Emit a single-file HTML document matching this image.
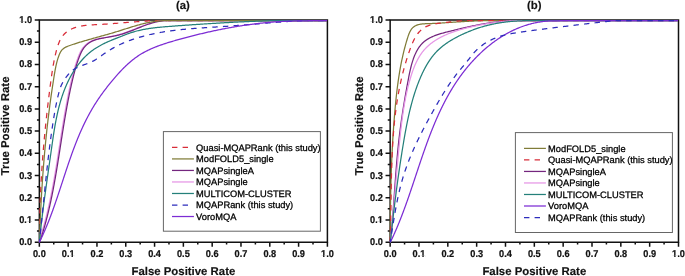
<!DOCTYPE html>
<html><head><meta charset="utf-8"><style>
html,body{margin:0;padding:0;background:#fff;}
body{width:685px;height:276px;overflow:hidden;}
svg{display:block;filter:blur(0.35px);}
text{font-family:"Liberation Sans",sans-serif;fill:#111;text-rendering:geometricPrecision;}
.tl{font-size:9.65px;font-weight:bold;stroke:#111;stroke-width:0.22px;}
.at{font-size:11.4px;font-weight:bold;stroke:#111;stroke-width:0.15px;}
.lg{font-size:9.3px;fill:#000;stroke:#000;stroke-width:0.28px;}
</style></head><body>
<svg width="685" height="276" viewBox="0 0 685 276">
<rect width="685" height="276" fill="#fff"/>
<clipPath id="ca"><rect x="38.35" y="19.70" width="289.05" height="223.50"/></clipPath>
<path d="M39.35,20.00 L327.40,20.00 L327.40,242.20 L39.35,242.20 Z" fill="none" stroke="#111" stroke-width="1.5"/>
<path d="M39.35,242.20 v4.6 M39.35,242.20 h-4.6 M53.75,242.20 v2.4 M39.35,231.09 h-2.4 M68.16,242.20 v4.6 M39.35,219.98 h-4.6 M82.56,242.20 v2.4 M39.35,208.87 h-2.4 M96.96,242.20 v4.6 M39.35,197.76 h-4.6 M111.36,242.20 v2.4 M39.35,186.65 h-2.4 M125.76,242.20 v4.6 M39.35,175.54 h-4.6 M140.17,242.20 v2.4 M39.35,164.43 h-2.4 M154.57,242.20 v4.6 M39.35,153.32 h-4.6 M168.97,242.20 v2.4 M39.35,142.21 h-2.4 M183.37,242.20 v4.6 M39.35,131.10 h-4.6 M197.78,242.20 v2.4 M39.35,119.99 h-2.4 M212.18,242.20 v4.6 M39.35,108.88 h-4.6 M226.58,242.20 v2.4 M39.35,97.77 h-2.4 M240.98,242.20 v4.6 M39.35,86.66 h-4.6 M255.39,242.20 v2.4 M39.35,75.55 h-2.4 M269.79,242.20 v4.6 M39.35,64.44 h-4.6 M284.19,242.20 v2.4 M39.35,53.33 h-2.4 M298.59,242.20 v4.6 M39.35,42.22 h-4.6 M313.00,242.20 v2.4 M39.35,31.11 h-2.4 M327.40,242.20 v4.6 M39.35,20.00 h-4.6" stroke="#111" stroke-width="1.5" fill="none"/>
<g clip-path="url(#ca)" fill="none" stroke-linejoin="round">
<path d="M39.35,242.20 L39.60,241.43 L39.59,240.63 L39.59,239.83 L39.59,239.03 L39.58,238.23 L39.58,237.44 L39.58,236.64 L39.58,235.84 L39.58,235.04 L39.58,234.25 L39.58,233.45 L39.59,232.65 L39.59,231.85 L39.59,231.05 L39.60,230.26 L39.60,229.46 L39.61,228.66 L39.62,227.86 L39.62,227.07 L39.63,226.27 L39.64,225.47 L39.65,224.68 L39.66,223.88 L39.67,223.08 L39.68,222.28 L39.69,221.49 L39.71,220.69 L39.72,219.89 L39.74,219.10 L39.75,218.30 L39.77,217.50 L39.78,216.71 L39.80,215.91 L39.82,215.11 L39.83,214.32 L39.85,213.52 L39.87,212.72 L39.89,211.93 L39.91,211.13 L39.93,210.33 L39.96,209.54 L39.98,208.74 L40.00,207.94 L40.03,207.15 L40.05,206.35 L40.07,205.56 L40.10,204.76 L40.13,203.96 L40.15,203.17 L40.18,202.37 L40.21,201.58 L40.24,200.78 L40.27,199.98 L40.30,199.19 L40.33,198.39 L40.36,197.60 L40.39,196.80 L40.43,196.01 L40.46,195.21 L40.49,194.41 L40.53,193.62 L40.56,192.82 L40.60,192.03 L40.63,191.23 L40.67,190.44 L40.71,189.64 L40.75,188.85 L40.79,188.05 L40.82,187.26 L40.86,186.46 L40.90,185.67 L40.95,184.87 L40.99,184.08 L41.03,183.28 L41.07,182.49 L41.12,181.69 L41.16,180.90 L41.20,180.10 L41.25,179.31 L41.30,178.52 L41.34,177.72 L41.39,176.93 L41.44,176.13 L41.48,175.34 L41.53,174.54 L41.58,173.75 L41.63,172.96 L41.68,172.16 L41.73,171.37 L41.79,170.57 L41.84,169.78 L41.89,168.99 L41.94,168.19 L42.00,167.40 L42.05,166.60 L42.11,165.81 L42.16,165.02 L42.22,164.22 L42.27,163.43 L42.33,162.64 L42.39,161.84 L42.45,161.05 L42.51,160.26 L42.56,159.46 L42.62,158.67 L42.68,157.88 L42.75,157.08 L42.81,156.29 L42.87,155.50 L42.93,154.70 L42.99,153.91 L43.06,153.12 L43.12,152.32 L43.19,151.53 L43.25,150.74 L43.32,149.95 L43.38,149.15 L43.45,148.36 L43.52,147.57 L43.58,146.78 L43.65,145.98 L43.72,145.19 L43.79,144.40 L43.86,143.61 L43.93,142.81 L44.00,142.02 L44.07,141.23 L44.15,140.44 L44.22,139.65 L44.29,138.85 L44.36,138.06 L44.44,137.27 L44.51,136.48 L44.59,135.69 L44.66,134.89 L44.74,134.10 L44.81,133.31 L44.89,132.52 L44.97,131.73 L45.05,130.94 L45.12,130.15 L45.20,129.35 L45.28,128.56 L45.36,127.77 L45.44,126.98 L45.52,126.19 L45.60,125.40 L45.68,124.61 L45.77,123.82 L45.85,123.02 L45.93,122.23 L46.02,121.44 L46.10,120.65 L46.18,119.86 L46.27,119.07 L46.35,118.28 L46.44,117.49 L46.53,116.70 L46.61,115.91 L46.70,115.12 L46.79,114.33 L46.87,113.54 L46.96,112.75 L47.05,111.96 L47.14,111.17 L47.23,110.38 L47.32,109.59 L47.41,108.80 L47.50,108.01 L47.59,107.22 L47.69,106.43 L47.78,105.64 L47.87,104.85 L47.97,104.06 L48.06,103.27 L48.15,102.48 L48.25,101.69 L48.34,100.90 L48.44,100.11 L48.53,99.32 L48.63,98.53 L48.73,97.74 L48.82,96.95 L48.92,96.16 L49.02,95.37 L49.12,94.59 L49.22,93.80 L49.32,93.01 L49.41,92.22 L49.51,91.43 L49.62,90.64 L49.72,89.85 L49.82,89.06 L49.92,88.28 L50.02,87.49 L50.12,86.70 L50.23,85.91 L50.33,85.12 L50.43,84.33 L50.54,83.54 L50.64,82.76 L50.75,81.97 L50.85,81.18 L50.96,80.39 L51.06,79.60 L51.17,78.82 L51.28,78.03 L51.39,77.24 L51.50,76.45 L51.61,75.66 L51.72,74.88 L51.84,74.09 L51.95,73.30 L52.07,72.51 L52.19,71.72 L52.31,70.94 L52.43,70.15 L52.56,69.36 L52.69,68.57 L52.82,67.78 L52.95,66.99 L53.08,66.21 L53.22,65.42 L53.36,64.63 L53.50,63.84 L53.65,63.05 L53.80,62.26 L53.95,61.47 L54.10,60.68 L54.26,59.89 L54.42,59.10 L54.59,58.31 L54.76,57.52 L54.93,56.73 L55.11,55.94 L55.29,55.15 L55.47,54.36 L55.66,53.57 L55.85,52.78 L56.05,51.99 L56.25,51.20 L56.46,50.41 L56.67,49.62 L56.89,48.83 L57.11,48.05 L57.35,47.27 L57.59,46.49 L57.84,45.72 L58.10,44.96 L58.37,44.20 L58.65,43.45 L58.94,42.71 L59.24,41.98 L59.56,41.26 L59.89,40.55 L60.23,39.86 L60.59,39.17 L60.97,38.50 L61.36,37.85 L61.76,37.21 L62.19,36.59 L62.63,35.98 L63.09,35.40 L63.57,34.83 L64.07,34.28 L64.59,33.75 L65.12,33.24 L65.68,32.75 L66.25,32.27 L66.83,31.82 L67.44,31.38 L68.05,30.96 L68.69,30.55 L69.33,30.17 L69.99,29.80 L70.66,29.44 L71.35,29.10 L72.05,28.78 L72.75,28.47 L73.47,28.18 L74.20,27.91 L74.94,27.64 L75.68,27.39 L76.44,27.16 L77.20,26.94 L77.97,26.73 L78.74,26.54 L79.52,26.36 L80.31,26.19 L81.10,26.03 L81.89,25.89 L82.69,25.76 L83.49,25.63 L84.30,25.52 L85.10,25.42 L85.91,25.33 L86.72,25.25 L87.53,25.17 L88.35,25.10 L89.16,25.04 L89.98,24.98 L90.79,24.93 L91.61,24.88 L92.43,24.83 L93.25,24.79 L94.06,24.75 L94.88,24.71 L95.70,24.67 L96.51,24.63 L97.33,24.59 L98.14,24.55 L98.95,24.51 L99.76,24.47 L100.57,24.42 L101.38,24.37 L102.18,24.33 L102.99,24.28 L103.79,24.23 L104.59,24.17 L105.40,24.12 L106.20,24.07 L107.00,24.02 L107.79,23.96 L108.59,23.90 L109.39,23.85 L110.18,23.79 L110.98,23.73 L111.77,23.67 L112.57,23.61 L113.36,23.55 L114.15,23.49 L114.94,23.43 L115.73,23.37 L116.52,23.31 L117.31,23.25 L118.10,23.18 L118.89,23.12 L119.68,23.06 L120.47,23.00 L121.25,22.93 L122.04,22.87 L122.82,22.80 L123.61,22.74 L124.40,22.68 L125.18,22.61 L125.97,22.55 L126.75,22.49 L127.54,22.42 L128.32,22.36 L129.10,22.30 L129.89,22.23 L130.67,22.17 L131.46,22.11 L132.24,22.05 L133.03,21.99 L133.81,21.93 L134.60,21.87 L135.38,21.81 L136.16,21.75 L136.95,21.69 L137.74,21.64 L138.52,21.58 L139.31,21.53 L140.09,21.47 L140.88,21.42 L141.67,21.36 L142.45,21.31 L143.24,21.26 L144.03,21.21 L144.82,21.16 L145.61,21.12 L146.40,21.07 L147.19,21.03 L147.98,20.98 L148.78,20.94 L149.57,20.90 L150.36,20.86 L151.16,20.82 L151.95,20.79 L152.75,20.75 L153.55,20.72 L154.34,20.69 L155.14,20.66 L155.94,20.63 L156.74,20.60 L157.55,20.58 L158.35,20.55 L159.15,20.53 L159.96,20.51 L160.77,20.50 L161.58,20.50 L162.38,20.50 L163.20,20.50 L164.01,20.50 L164.82,20.50 L165.63,20.50 L166.45,20.50 L167.27,20.50 L168.00,20.50 L327.00,20.50" stroke="#d82c38" stroke-width="1.25" stroke-dasharray="5.4,5.2" stroke-dashoffset="3.0"/>
<path d="M38.85,242.20 L38.91,241.48 L39.15,240.78 L39.38,240.08 L39.61,239.38 L39.84,238.68 L40.07,237.98 L40.29,237.28 L40.52,236.57 L40.74,235.87 L40.96,235.17 L41.18,234.47 L41.40,233.76 L41.62,233.06 L41.83,232.35 L42.04,231.65 L42.25,230.94 L42.46,230.24 L42.67,229.53 L42.88,228.83 L43.08,228.12 L43.28,227.41 L43.49,226.71 L43.69,226.00 L43.88,225.29 L44.08,224.58 L44.28,223.88 L44.47,223.17 L44.66,222.46 L44.85,221.75 L45.04,221.04 L45.23,220.33 L45.42,219.62 L45.60,218.91 L45.78,218.20 L45.97,217.49 L46.15,216.78 L46.33,216.07 L46.50,215.36 L46.68,214.64 L46.86,213.93 L47.03,213.22 L47.20,212.51 L47.37,211.79 L47.55,211.08 L47.71,210.37 L47.88,209.65 L48.05,208.94 L48.21,208.23 L48.38,207.51 L48.54,206.80 L48.70,206.08 L48.86,205.37 L49.02,204.65 L49.18,203.94 L49.34,203.22 L49.49,202.51 L49.65,201.79 L49.80,201.07 L49.96,200.36 L50.11,199.64 L50.26,198.92 L50.41,198.21 L50.56,197.49 L50.70,196.77 L50.85,196.06 L51.00,195.34 L51.14,194.62 L51.29,193.90 L51.43,193.18 L51.57,192.46 L51.71,191.75 L51.85,191.03 L51.99,190.31 L52.13,189.59 L52.27,188.87 L52.41,188.15 L52.54,187.43 L52.68,186.71 L52.81,185.99 L52.95,185.27 L53.08,184.55 L53.21,183.83 L53.34,183.11 L53.47,182.39 L53.60,181.67 L53.73,180.95 L53.86,180.23 L53.99,179.50 L54.12,178.78 L54.24,178.06 L54.37,177.34 L54.50,176.62 L54.62,175.90 L54.75,175.17 L54.87,174.45 L54.99,173.73 L55.12,173.01 L55.24,172.28 L55.36,171.56 L55.48,170.84 L55.60,170.12 L55.72,169.39 L55.84,168.67 L55.96,167.95 L56.08,167.23 L56.20,166.50 L56.32,165.78 L56.43,165.06 L56.55,164.33 L56.67,163.61 L56.79,162.89 L56.90,162.16 L57.02,161.44 L57.13,160.71 L57.25,159.99 L57.37,159.27 L57.48,158.54 L57.60,157.82 L57.71,157.09 L57.82,156.37 L57.94,155.65 L58.05,154.92 L58.17,154.20 L58.28,153.47 L58.39,152.75 L58.51,152.03 L58.62,151.30 L58.73,150.58 L58.84,149.85 L58.96,149.13 L59.07,148.40 L59.18,147.68 L59.30,146.96 L59.41,146.23 L59.52,145.51 L59.63,144.78 L59.75,144.06 L59.86,143.33 L59.97,142.61 L60.08,141.88 L60.20,141.16 L60.31,140.44 L60.42,139.71 L60.54,138.99 L60.65,138.26 L60.76,137.54 L60.88,136.81 L60.99,136.09 L61.10,135.37 L61.22,134.64 L61.33,133.92 L61.45,133.19 L61.56,132.47 L61.68,131.74 L61.79,131.02 L61.91,130.30 L62.02,129.57 L62.14,128.85 L62.26,128.13 L62.37,127.40 L62.49,126.68 L62.61,125.95 L62.73,125.23 L62.85,124.51 L62.96,123.78 L63.08,123.06 L63.20,122.34 L63.32,121.61 L63.44,120.89 L63.56,120.17 L63.69,119.45 L63.81,118.72 L63.93,118.00 L64.05,117.28 L64.18,116.55 L64.30,115.83 L64.43,115.11 L64.55,114.39 L64.68,113.67 L64.80,112.94 L64.93,112.22 L65.06,111.50 L65.19,110.78 L65.32,110.06 L65.44,109.34 L65.58,108.61 L65.71,107.89 L65.84,107.17 L65.97,106.45 L66.10,105.73 L66.24,105.01 L66.37,104.29 L66.51,103.57 L66.64,102.85 L66.78,102.13 L66.92,101.41 L67.06,100.69 L67.20,99.97 L67.34,99.25 L67.48,98.53 L67.62,97.81 L67.77,97.09 L67.91,96.38 L68.06,95.66 L68.20,94.94 L68.35,94.22 L68.50,93.50 L68.65,92.78 L68.80,92.07 L68.95,91.35 L69.10,90.63 L69.25,89.92 L69.41,89.20 L69.56,88.48 L69.72,87.77 L69.88,87.05 L70.04,86.33 L70.20,85.62 L70.36,84.90 L70.52,84.19 L70.68,83.47 L70.85,82.76 L71.01,82.04 L71.18,81.33 L71.35,80.61 L71.52,79.90 L71.69,79.19 L71.86,78.47 L72.03,77.76 L72.21,77.05 L72.38,76.33 L72.56,75.62 L72.74,74.91 L72.92,74.20 L73.11,73.49 L73.29,72.78 L73.48,72.06 L73.67,71.36 L73.86,70.65 L74.05,69.94 L74.25,69.23 L74.45,68.52 L74.65,67.81 L74.86,67.11 L75.07,66.40 L75.28,65.70 L75.50,64.99 L75.72,64.29 L75.94,63.59 L76.16,62.88 L76.39,62.18 L76.63,61.48 L76.87,60.78 L77.11,60.09 L77.35,59.39 L77.61,58.69 L77.86,58.00 L78.12,57.30 L78.39,56.61 L78.66,55.92 L78.94,55.24 L79.22,54.55 L79.51,53.88 L79.82,53.21 L80.13,52.55 L80.45,51.90 L80.78,51.26 L81.13,50.63 L81.49,50.01 L81.86,49.40 L82.24,48.80 L82.64,48.22 L83.06,47.66 L83.49,47.11 L83.93,46.58 L84.39,46.07 L84.87,45.57 L85.36,45.09 L85.87,44.62 L86.39,44.17 L86.92,43.74 L87.47,43.32 L88.04,42.93 L88.61,42.54 L89.20,42.18 L89.80,41.83 L90.42,41.50 L91.04,41.19 L91.68,40.89 L92.33,40.61 L93.00,40.34 L93.67,40.10 L94.35,39.86 L95.04,39.65 L95.74,39.44 L96.45,39.25 L97.17,39.06 L97.89,38.89 L98.61,38.73 L99.35,38.57 L100.08,38.42 L100.82,38.28 L101.56,38.14 L102.31,38.01 L103.05,37.88 L103.80,37.75 L104.54,37.62 L105.28,37.50 L106.03,37.37 L106.77,37.25 L107.50,37.12 L108.24,36.99 L108.97,36.86 L109.71,36.72 L110.44,36.59 L111.16,36.45 L111.89,36.31 L112.62,36.16 L113.34,36.01 L114.06,35.86 L114.78,35.70 L115.49,35.54 L116.21,35.37 L116.92,35.20 L117.63,35.02 L118.34,34.84 L119.04,34.65 L119.75,34.45 L120.45,34.25 L121.15,34.04 L121.85,33.83 L122.55,33.61 L123.24,33.38 L123.93,33.15 L124.63,32.91 L125.32,32.67 L126.01,32.43 L126.69,32.18 L127.38,31.93 L128.07,31.67 L128.75,31.41 L129.43,31.15 L130.12,30.89 L130.80,30.62 L131.48,30.35 L132.16,30.08 L132.84,29.81 L133.52,29.54 L134.20,29.26 L134.88,28.99 L135.56,28.71 L136.24,28.44 L136.92,28.16 L137.60,27.89 L138.28,27.61 L138.96,27.34 L139.64,27.07 L140.32,26.80 L141.00,26.53 L141.68,26.27 L142.36,26.00 L143.04,25.74 L143.73,25.48 L144.41,25.23 L145.10,24.98 L145.78,24.73 L146.47,24.49 L147.16,24.25 L147.85,24.02 L148.54,23.79 L149.23,23.57 L149.93,23.35 L150.62,23.14 L151.32,22.93 L152.02,22.73 L152.72,22.54 L153.43,22.35 L154.13,22.17 L154.84,22.00 L155.55,21.84 L156.26,21.68 L156.98,21.53 L157.69,21.39 L158.41,21.26 L159.14,21.14 L159.86,21.03 L160.59,20.93 L161.32,20.84 L162.05,20.76 L162.79,20.69 L163.53,20.63 L164.27,20.58 L165.02,20.54 L165.77,20.51 L166.52,20.50 L167.28,20.50 L168.04,20.51 L168.81,20.53 L169.50,20.50 L326.50,20.50" stroke="#e696e6" stroke-width="1.25"/>
<path d="M39.85,242.20 L39.91,241.48 L40.15,240.78 L40.38,240.08 L40.61,239.38 L40.84,238.68 L41.07,237.98 L41.29,237.28 L41.52,236.57 L41.74,235.87 L41.96,235.17 L42.18,234.47 L42.40,233.76 L42.62,233.06 L42.83,232.35 L43.04,231.65 L43.25,230.94 L43.46,230.24 L43.67,229.53 L43.88,228.83 L44.08,228.12 L44.28,227.41 L44.49,226.71 L44.69,226.00 L44.88,225.29 L45.08,224.58 L45.28,223.88 L45.47,223.17 L45.66,222.46 L45.85,221.75 L46.04,221.04 L46.23,220.33 L46.42,219.62 L46.60,218.91 L46.78,218.20 L46.97,217.49 L47.15,216.78 L47.33,216.07 L47.50,215.36 L47.68,214.64 L47.86,213.93 L48.03,213.22 L48.20,212.51 L48.37,211.79 L48.55,211.08 L48.71,210.37 L48.88,209.65 L49.05,208.94 L49.21,208.23 L49.38,207.51 L49.54,206.80 L49.70,206.08 L49.86,205.37 L50.02,204.65 L50.18,203.94 L50.34,203.22 L50.49,202.51 L50.65,201.79 L50.80,201.07 L50.96,200.36 L51.11,199.64 L51.26,198.92 L51.41,198.21 L51.56,197.49 L51.70,196.77 L51.85,196.06 L52.00,195.34 L52.14,194.62 L52.29,193.90 L52.43,193.18 L52.57,192.46 L52.71,191.75 L52.85,191.03 L52.99,190.31 L53.13,189.59 L53.27,188.87 L53.41,188.15 L53.54,187.43 L53.68,186.71 L53.81,185.99 L53.95,185.27 L54.08,184.55 L54.21,183.83 L54.34,183.11 L54.47,182.39 L54.60,181.67 L54.73,180.95 L54.86,180.23 L54.99,179.50 L55.12,178.78 L55.24,178.06 L55.37,177.34 L55.50,176.62 L55.62,175.90 L55.75,175.17 L55.87,174.45 L55.99,173.73 L56.12,173.01 L56.24,172.28 L56.36,171.56 L56.48,170.84 L56.60,170.12 L56.72,169.39 L56.84,168.67 L56.96,167.95 L57.08,167.23 L57.20,166.50 L57.32,165.78 L57.43,165.06 L57.55,164.33 L57.67,163.61 L57.79,162.89 L57.90,162.16 L58.02,161.44 L58.13,160.71 L58.25,159.99 L58.37,159.27 L58.48,158.54 L58.60,157.82 L58.71,157.09 L58.82,156.37 L58.94,155.65 L59.05,154.92 L59.17,154.20 L59.28,153.47 L59.39,152.75 L59.51,152.03 L59.62,151.30 L59.73,150.58 L59.84,149.85 L59.96,149.13 L60.07,148.40 L60.18,147.68 L60.30,146.96 L60.41,146.23 L60.52,145.51 L60.63,144.78 L60.75,144.06 L60.86,143.33 L60.97,142.61 L61.08,141.88 L61.20,141.16 L61.31,140.44 L61.42,139.71 L61.54,138.99 L61.65,138.26 L61.76,137.54 L61.88,136.81 L61.99,136.09 L62.10,135.37 L62.22,134.64 L62.33,133.92 L62.45,133.19 L62.56,132.47 L62.68,131.74 L62.79,131.02 L62.91,130.30 L63.02,129.57 L63.14,128.85 L63.26,128.13 L63.37,127.40 L63.49,126.68 L63.61,125.95 L63.73,125.23 L63.85,124.51 L63.96,123.78 L64.08,123.06 L64.20,122.34 L64.32,121.61 L64.44,120.89 L64.56,120.17 L64.69,119.45 L64.81,118.72 L64.93,118.00 L65.05,117.28 L65.18,116.55 L65.30,115.83 L65.43,115.11 L65.55,114.39 L65.68,113.67 L65.80,112.94 L65.93,112.22 L66.06,111.50 L66.19,110.78 L66.32,110.06 L66.44,109.34 L66.58,108.61 L66.71,107.89 L66.84,107.17 L66.97,106.45 L67.10,105.73 L67.24,105.01 L67.37,104.29 L67.51,103.57 L67.64,102.85 L67.78,102.13 L67.92,101.41 L68.06,100.69 L68.20,99.97 L68.34,99.25 L68.48,98.53 L68.62,97.81 L68.77,97.09 L68.91,96.38 L69.06,95.66 L69.20,94.94 L69.35,94.22 L69.50,93.50 L69.65,92.78 L69.80,92.07 L69.95,91.35 L70.10,90.63 L70.25,89.92 L70.41,89.20 L70.56,88.48 L70.72,87.77 L70.88,87.05 L71.04,86.33 L71.20,85.62 L71.36,84.90 L71.52,84.19 L71.68,83.47 L71.85,82.76 L72.01,82.04 L72.18,81.33 L72.35,80.61 L72.52,79.90 L72.69,79.19 L72.86,78.47 L73.03,77.76 L73.21,77.05 L73.38,76.33 L73.56,75.62 L73.74,74.91 L73.92,74.20 L74.11,73.49 L74.29,72.78 L74.48,72.06 L74.67,71.36 L74.86,70.65 L75.05,69.94 L75.25,69.23 L75.45,68.52 L75.65,67.81 L75.86,67.11 L76.07,66.40 L76.28,65.70 L76.50,64.99 L76.72,64.29 L76.94,63.59 L77.16,62.88 L77.39,62.18 L77.63,61.48 L77.87,60.78 L78.11,60.09 L78.35,59.39 L78.61,58.69 L78.86,58.00 L79.12,57.30 L79.39,56.61 L79.66,55.92 L79.94,55.24 L80.22,54.55 L80.51,53.88 L80.82,53.21 L81.13,52.55 L81.45,51.90 L81.78,51.26 L82.13,50.63 L82.49,50.01 L82.86,49.40 L83.24,48.80 L83.64,48.22 L84.06,47.66 L84.49,47.11 L84.93,46.58 L85.39,46.07 L85.87,45.57 L86.36,45.09 L86.87,44.62 L87.39,44.17 L87.92,43.74 L88.47,43.32 L89.04,42.93 L89.61,42.54 L90.20,42.18 L90.80,41.83 L91.42,41.50 L92.04,41.19 L92.68,40.89 L93.33,40.61 L94.00,40.34 L94.67,40.10 L95.35,39.86 L96.04,39.65 L96.74,39.44 L97.45,39.25 L98.17,39.06 L98.89,38.89 L99.61,38.73 L100.35,38.57 L101.08,38.42 L101.82,38.28 L102.56,38.14 L103.31,38.01 L104.05,37.88 L104.80,37.75 L105.54,37.62 L106.28,37.50 L107.03,37.37 L107.77,37.25 L108.50,37.12 L109.24,36.99 L109.97,36.86 L110.71,36.72 L111.44,36.59 L112.16,36.45 L112.89,36.31 L113.62,36.16 L114.34,36.01 L115.06,35.86 L115.78,35.70 L116.49,35.54 L117.21,35.37 L117.92,35.20 L118.63,35.02 L119.34,34.84 L120.04,34.65 L120.75,34.45 L121.45,34.25 L122.15,34.04 L122.85,33.83 L123.55,33.61 L124.24,33.38 L124.93,33.15 L125.63,32.91 L126.32,32.67 L127.01,32.43 L127.69,32.18 L128.38,31.93 L129.07,31.67 L129.75,31.41 L130.43,31.15 L131.12,30.89 L131.80,30.62 L132.48,30.35 L133.16,30.08 L133.84,29.81 L134.52,29.54 L135.20,29.26 L135.88,28.99 L136.56,28.71 L137.24,28.44 L137.92,28.16 L138.60,27.89 L139.28,27.61 L139.96,27.34 L140.64,27.07 L141.32,26.80 L142.00,26.53 L142.68,26.27 L143.36,26.00 L144.04,25.74 L144.73,25.48 L145.41,25.23 L146.10,24.98 L146.78,24.73 L147.47,24.49 L148.16,24.25 L148.85,24.02 L149.54,23.79 L150.23,23.57 L150.93,23.35 L151.62,23.14 L152.32,22.93 L153.02,22.73 L153.72,22.54 L154.43,22.35 L155.13,22.17 L155.84,22.00 L156.55,21.84 L157.26,21.68 L157.98,21.53 L158.69,21.39 L159.41,21.26 L160.14,21.14 L160.86,21.03 L161.59,20.93 L162.32,20.84 L163.05,20.76 L163.79,20.69 L164.53,20.63 L165.27,20.58 L166.02,20.54 L166.77,20.51 L167.52,20.50 L168.28,20.50 L169.04,20.51 L169.81,20.53 L170.50,20.50 L327.50,20.50" stroke="#74267e" stroke-width="1.25"/>
<path d="M39.35,242.20 L39.42,241.48 L39.44,240.71 L39.47,239.94 L39.49,239.18 L39.52,238.41 L39.55,237.64 L39.58,236.88 L39.60,236.11 L39.63,235.34 L39.66,234.58 L39.69,233.81 L39.71,233.04 L39.74,232.28 L39.77,231.51 L39.80,230.75 L39.83,229.98 L39.86,229.22 L39.89,228.45 L39.92,227.69 L39.95,226.92 L39.98,226.15 L40.01,225.39 L40.05,224.62 L40.08,223.86 L40.11,223.09 L40.14,222.33 L40.18,221.57 L40.21,220.80 L40.24,220.04 L40.28,219.27 L40.31,218.51 L40.34,217.74 L40.38,216.98 L40.41,216.22 L40.45,215.45 L40.48,214.69 L40.52,213.92 L40.56,213.16 L40.59,212.40 L40.63,211.63 L40.67,210.87 L40.71,210.11 L40.74,209.34 L40.78,208.58 L40.82,207.82 L40.86,207.05 L40.90,206.29 L40.94,205.53 L40.98,204.77 L41.02,204.00 L41.06,203.24 L41.10,202.48 L41.14,201.72 L41.18,200.95 L41.23,200.19 L41.27,199.43 L41.31,198.67 L41.35,197.90 L41.40,197.14 L41.44,196.38 L41.48,195.62 L41.53,194.86 L41.57,194.09 L41.62,193.33 L41.67,192.57 L41.71,191.81 L41.76,191.05 L41.80,190.29 L41.85,189.53 L41.90,188.76 L41.95,188.00 L42.00,187.24 L42.04,186.48 L42.09,185.72 L42.14,184.96 L42.19,184.20 L42.24,183.44 L42.29,182.68 L42.34,181.92 L42.40,181.16 L42.45,180.39 L42.50,179.63 L42.55,178.87 L42.61,178.11 L42.66,177.35 L42.71,176.59 L42.77,175.83 L42.82,175.07 L42.88,174.31 L42.93,173.55 L42.99,172.79 L43.05,172.03 L43.10,171.27 L43.16,170.51 L43.22,169.75 L43.28,168.99 L43.33,168.23 L43.39,167.47 L43.45,166.71 L43.51,165.95 L43.57,165.19 L43.63,164.43 L43.69,163.68 L43.75,162.92 L43.82,162.16 L43.88,161.40 L43.94,160.64 L44.01,159.88 L44.07,159.12 L44.13,158.36 L44.20,157.60 L44.26,156.84 L44.33,156.08 L44.39,155.32 L44.46,154.56 L44.53,153.81 L44.59,153.05 L44.66,152.29 L44.73,151.53 L44.80,150.77 L44.87,150.01 L44.94,149.25 L45.01,148.49 L45.08,147.74 L45.15,146.98 L45.22,146.22 L45.29,145.46 L45.37,144.70 L45.44,143.94 L45.51,143.18 L45.59,142.43 L45.66,141.67 L45.74,140.91 L45.81,140.15 L45.89,139.39 L45.96,138.63 L46.04,137.88 L46.12,137.12 L46.20,136.36 L46.27,135.60 L46.35,134.84 L46.43,134.08 L46.51,133.33 L46.59,132.57 L46.67,131.81 L46.76,131.05 L46.84,130.29 L46.92,129.54 L47.00,128.78 L47.09,128.02 L47.17,127.26 L47.26,126.50 L47.34,125.74 L47.43,124.99 L47.51,124.23 L47.60,123.47 L47.69,122.71 L47.77,121.95 L47.86,121.20 L47.95,120.44 L48.04,119.68 L48.13,118.92 L48.22,118.17 L48.31,117.41 L48.40,116.65 L48.49,115.89 L48.59,115.13 L48.68,114.38 L48.77,113.62 L48.87,112.86 L48.96,112.10 L49.06,111.34 L49.15,110.59 L49.25,109.83 L49.35,109.07 L49.45,108.31 L49.54,107.55 L49.64,106.80 L49.74,106.04 L49.84,105.28 L49.94,104.52 L50.04,103.77 L50.14,103.01 L50.25,102.25 L50.35,101.49 L50.45,100.73 L50.56,99.98 L50.66,99.22 L50.77,98.46 L50.87,97.70 L50.98,96.94 L51.08,96.19 L51.19,95.43 L51.30,94.67 L51.41,93.91 L51.52,93.15 L51.63,92.40 L51.74,91.64 L51.85,90.88 L51.96,90.12 L52.07,89.36 L52.19,88.61 L52.30,87.85 L52.41,87.09 L52.53,86.33 L52.64,85.57 L52.76,84.82 L52.88,84.06 L52.99,83.30 L53.11,82.54 L53.23,81.78 L53.35,81.02 L53.47,80.27 L53.59,79.51 L53.71,78.75 L53.83,77.99 L53.95,77.23 L54.07,76.47 L54.20,75.72 L54.32,74.96 L54.45,74.20 L54.57,73.44 L54.70,72.68 L54.83,71.92 L54.96,71.17 L55.09,70.41 L55.23,69.65 L55.37,68.90 L55.52,68.14 L55.67,67.39 L55.82,66.63 L55.98,65.88 L56.14,65.13 L56.31,64.38 L56.49,63.63 L56.67,62.88 L56.86,62.14 L57.06,61.39 L57.26,60.65 L57.48,59.91 L57.70,59.17 L57.93,58.43 L58.17,57.70 L58.42,56.97 L58.68,56.24 L58.96,55.51 L59.24,54.78 L59.54,54.07 L59.85,53.36 L60.18,52.67 L60.54,52.00 L60.92,51.36 L61.34,50.75 L61.78,50.18 L62.26,49.65 L62.77,49.16 L63.31,48.70 L63.88,48.28 L64.47,47.88 L65.09,47.51 L65.72,47.17 L66.38,46.85 L67.05,46.55 L67.73,46.27 L68.42,46.00 L69.12,45.73 L69.83,45.48 L70.54,45.24 L71.26,44.99 L71.97,44.75 L72.69,44.51 L73.40,44.27 L74.12,44.04 L74.84,43.81 L75.56,43.57 L76.28,43.35 L77.00,43.12 L77.72,42.89 L78.44,42.67 L79.17,42.44 L79.89,42.22 L80.62,42.00 L81.34,41.78 L82.07,41.57 L82.80,41.35 L83.52,41.13 L84.25,40.92 L84.98,40.71 L85.71,40.50 L86.44,40.28 L87.17,40.07 L87.90,39.87 L88.63,39.66 L89.37,39.45 L90.10,39.24 L90.83,39.04 L91.56,38.83 L92.30,38.63 L93.03,38.42 L93.77,38.22 L94.50,38.01 L95.23,37.81 L95.97,37.60 L96.70,37.40 L97.44,37.20 L98.17,36.99 L98.91,36.79 L99.65,36.59 L100.38,36.38 L101.12,36.18 L101.85,35.97 L102.59,35.77 L103.32,35.56 L104.06,35.36 L104.79,35.15 L105.53,34.95 L106.26,34.74 L107.00,34.53 L107.73,34.32 L108.47,34.11 L109.20,33.90 L109.93,33.69 L110.67,33.48 L111.40,33.26 L112.13,33.05 L112.87,32.83 L113.60,32.62 L114.33,32.40 L115.06,32.18 L115.79,31.96 L116.52,31.73 L117.25,31.51 L117.98,31.29 L118.71,31.06 L119.44,30.83 L120.17,30.60 L120.89,30.37 L121.62,30.14 L122.35,29.91 L123.08,29.68 L123.80,29.45 L124.53,29.22 L125.26,28.99 L125.98,28.75 L126.71,28.52 L127.44,28.29 L128.16,28.06 L128.89,27.84 L129.62,27.61 L130.35,27.38 L131.07,27.15 L131.80,26.93 L132.53,26.71 L133.26,26.49 L133.99,26.27 L134.72,26.05 L135.45,25.84 L136.18,25.62 L136.91,25.41 L137.64,25.20 L138.37,25.00 L139.10,24.80 L139.84,24.60 L140.57,24.40 L141.31,24.21 L142.04,24.02 L142.78,23.83 L143.52,23.65 L144.26,23.47 L145.00,23.30 L145.74,23.13 L146.48,22.96 L147.22,22.80 L147.97,22.64 L148.71,22.49 L149.46,22.34 L150.21,22.20 L150.96,22.06 L151.71,21.93 L152.46,21.81 L153.22,21.68 L153.97,21.57 L154.73,21.46 L155.49,21.36 L156.25,21.26 L157.01,21.17 L157.77,21.08 L158.54,21.01 L159.30,20.94 L160.07,20.87 L160.84,20.82 L161.62,20.77 L162.39,20.72 L163.17,20.69 L163.95,20.66 L164.73,20.64 L165.51,20.63 L166.29,20.63 L167.00,20.50 L327.00,20.50" stroke="#807c38" stroke-width="1.25"/>
<path d="M39.35,242.20 L39.46,241.22 L39.56,240.21 L39.66,239.20 L39.76,238.19 L39.86,237.18 L39.97,236.18 L40.07,235.17 L40.18,234.16 L40.28,233.16 L40.39,232.15 L40.50,231.15 L40.61,230.15 L40.72,229.14 L40.83,228.14 L40.94,227.14 L41.05,226.14 L41.17,225.13 L41.28,224.13 L41.40,223.13 L41.52,222.13 L41.63,221.13 L41.75,220.13 L41.87,219.14 L41.99,218.14 L42.11,217.14 L42.23,216.14 L42.36,215.15 L42.48,214.15 L42.60,213.15 L42.73,212.16 L42.85,211.16 L42.98,210.16 L43.11,209.17 L43.23,208.17 L43.36,207.18 L43.49,206.18 L43.62,205.19 L43.75,204.20 L43.88,203.20 L44.01,202.21 L44.14,201.21 L44.27,200.22 L44.40,199.23 L44.54,198.23 L44.67,197.24 L44.80,196.25 L44.94,195.26 L45.07,194.26 L45.21,193.27 L45.34,192.28 L45.48,191.29 L45.62,190.29 L45.75,189.30 L45.89,188.31 L46.03,187.32 L46.17,186.32 L46.31,185.33 L46.44,184.34 L46.58,183.35 L46.72,182.35 L46.86,181.36 L47.00,180.37 L47.14,179.38 L47.28,178.38 L47.42,177.39 L47.56,176.40 L47.71,175.40 L47.85,174.41 L47.99,173.42 L48.13,172.42 L48.27,171.43 L48.41,170.44 L48.55,169.44 L48.70,168.45 L48.84,167.45 L48.98,166.46 L49.12,165.46 L49.27,164.47 L49.41,163.47 L49.55,162.47 L49.69,161.48 L49.83,160.48 L49.98,159.48 L50.12,158.49 L50.26,157.49 L50.40,156.49 L50.54,155.49 L50.69,154.49 L50.83,153.49 L50.97,152.49 L51.11,151.49 L51.25,150.49 L51.39,149.49 L51.54,148.49 L51.68,147.49 L51.82,146.48 L51.96,145.48 L52.10,144.48 L52.24,143.48 L52.39,142.47 L52.53,141.47 L52.68,140.47 L52.82,139.46 L52.97,138.46 L53.12,137.46 L53.27,136.46 L53.42,135.45 L53.58,134.45 L53.73,133.45 L53.89,132.45 L54.05,131.45 L54.21,130.45 L54.37,129.45 L54.54,128.45 L54.71,127.45 L54.88,126.45 L55.05,125.46 L55.23,124.46 L55.41,123.47 L55.59,122.47 L55.78,121.48 L55.96,120.49 L56.16,119.50 L56.35,118.51 L56.55,117.52 L56.76,116.53 L56.97,115.55 L57.18,114.56 L57.39,113.58 L57.61,112.60 L57.84,111.62 L58.07,110.64 L58.30,109.66 L58.54,108.69 L58.78,107.71 L59.03,106.74 L59.29,105.77 L59.55,104.80 L59.81,103.84 L60.08,102.87 L60.36,101.91 L60.64,100.95 L60.93,99.99 L61.22,99.04 L61.52,98.08 L61.83,97.13 L62.14,96.18 L62.46,95.24 L62.78,94.29 L63.11,93.35 L63.45,92.41 L63.80,91.48 L64.15,90.54 L64.51,89.61 L64.88,88.68 L65.26,87.76 L65.64,86.83 L66.03,85.92 L66.43,85.00 L66.83,84.09 L67.25,83.17 L67.67,82.27 L68.10,81.36 L68.54,80.46 L68.99,79.56 L69.44,78.67 L69.91,77.78 L70.38,76.89 L70.87,76.01 L71.36,75.13 L71.86,74.25 L72.37,73.38 L72.89,72.51 L73.42,71.65 L73.96,70.79 L74.51,69.93 L75.06,69.09 L75.63,68.24 L76.20,67.41 L76.79,66.58 L77.38,65.76 L77.99,64.95 L78.60,64.14 L79.22,63.34 L79.86,62.55 L80.50,61.77 L81.15,61.00 L81.81,60.24 L82.48,59.48 L83.15,58.74 L83.84,58.01 L84.54,57.29 L85.25,56.58 L85.96,55.88 L86.69,55.19 L87.42,54.52 L88.17,53.85 L88.92,53.20 L89.69,52.57 L90.46,51.95 L91.24,51.34 L92.03,50.74 L92.83,50.16 L93.64,49.59 L94.46,49.03 L95.29,48.49 L96.12,47.95 L96.96,47.43 L97.81,46.92 L98.67,46.42 L99.53,45.93 L100.40,45.45 L101.27,44.97 L102.15,44.51 L103.04,44.06 L103.93,43.62 L104.83,43.18 L105.74,42.75 L106.64,42.33 L107.56,41.92 L108.47,41.51 L109.39,41.11 L110.32,40.71 L111.24,40.32 L112.18,39.94 L113.11,39.56 L114.04,39.19 L114.98,38.81 L115.92,38.44 L116.86,38.07 L117.80,37.70 L118.75,37.34 L119.69,36.96 L120.63,36.59 L121.57,36.22 L122.51,35.84 L123.46,35.47 L124.40,35.10 L125.34,34.73 L126.29,34.37 L127.23,34.02 L128.18,33.67 L129.13,33.33 L130.08,33.00 L131.04,32.68 L131.99,32.38 L132.95,32.08 L133.91,31.80 L134.87,31.52 L135.84,31.26 L136.81,31.01 L137.77,30.76 L138.74,30.53 L139.72,30.30 L140.69,30.08 L141.67,29.87 L142.65,29.67 L143.63,29.48 L144.61,29.30 L145.59,29.12 L146.57,28.95 L147.56,28.79 L148.55,28.63 L149.54,28.48 L150.52,28.34 L151.52,28.20 L152.51,28.07 L153.50,27.94 L154.49,27.82 L155.49,27.71 L156.49,27.59 L157.48,27.49 L158.48,27.38 L159.48,27.28 L160.48,27.18 L161.48,27.09 L162.48,27.00 L163.48,26.91 L164.48,26.83 L165.48,26.74 L166.48,26.66 L167.49,26.58 L168.49,26.50 L169.49,26.42 L170.49,26.35 L171.50,26.27 L172.50,26.19 L173.50,26.12 L174.51,26.04 L175.51,25.97 L176.51,25.89 L177.52,25.82 L178.52,25.74 L179.52,25.67 L180.53,25.60 L181.53,25.52 L182.53,25.45 L183.54,25.38 L184.54,25.31 L185.54,25.23 L186.55,25.16 L187.55,25.09 L188.56,25.02 L189.56,24.95 L190.56,24.88 L191.57,24.81 L192.57,24.74 L193.57,24.67 L194.58,24.60 L195.58,24.54 L196.59,24.47 L197.59,24.40 L198.60,24.33 L199.60,24.27 L200.60,24.20 L201.61,24.13 L202.61,24.07 L203.62,24.00 L204.62,23.94 L205.62,23.88 L206.63,23.81 L207.63,23.75 L208.64,23.69 L209.64,23.62 L210.65,23.56 L211.65,23.50 L212.65,23.44 L213.66,23.38 L214.66,23.32 L215.67,23.26 L216.67,23.20 L217.68,23.14 L218.68,23.08 L219.69,23.02 L220.69,22.96 L221.70,22.91 L222.70,22.85 L223.70,22.79 L224.71,22.74 L225.71,22.68 L226.72,22.63 L227.72,22.57 L228.73,22.52 L229.73,22.46 L230.74,22.41 L231.74,22.36 L232.75,22.31 L233.75,22.25 L234.76,22.20 L235.76,22.15 L236.77,22.10 L237.77,22.05 L238.78,22.00 L239.78,21.95 L240.78,21.91 L241.79,21.86 L242.79,21.81 L243.80,21.76 L244.80,21.72 L245.81,21.67 L246.81,21.63 L247.82,21.58 L248.82,21.54 L249.83,21.49 L250.83,21.45 L251.84,21.41 L252.84,21.36 L253.85,21.32 L254.85,21.28 L255.86,21.24 L256.86,21.20 L257.86,21.16 L258.87,21.12 L259.87,21.08 L260.88,21.05 L261.88,21.01 L262.89,20.97 L263.89,20.94 L264.90,20.90 L265.90,20.86 L266.91,20.83 L267.91,20.80 L268.92,20.76 L269.92,20.73 L270.92,20.70 L271.93,20.67 L272.93,20.63 L273.94,20.60 L274.94,20.57 L275.95,20.54 L276.95,20.52 L277.95,20.50 L278.96,20.50 L279.96,20.50 L280.97,20.50 L281.97,20.50 L282.98,20.50 L283.98,20.50 L285.00,20.50 L327.00,20.50" stroke="#24807a" stroke-width="1.25"/>
<path d="M39.35,242.20 L39.46,241.15 L39.58,240.09 L39.69,239.04 L39.81,237.98 L39.92,236.93 L40.04,235.88 L40.15,234.82 L40.27,233.77 L40.38,232.71 L40.49,231.66 L40.60,230.60 L40.72,229.55 L40.83,228.49 L40.94,227.44 L41.05,226.39 L41.16,225.33 L41.27,224.28 L41.38,223.22 L41.49,222.17 L41.60,221.11 L41.71,220.06 L41.82,219.00 L41.92,217.95 L42.03,216.90 L42.14,215.84 L42.25,214.79 L42.35,213.73 L42.46,212.68 L42.57,211.62 L42.68,210.57 L42.78,209.51 L42.89,208.46 L43.00,207.40 L43.10,206.35 L43.21,205.30 L43.32,204.24 L43.42,203.19 L43.53,202.13 L43.64,201.08 L43.74,200.02 L43.85,198.97 L43.96,197.92 L44.06,196.86 L44.17,195.81 L44.28,194.75 L44.39,193.70 L44.49,192.64 L44.60,191.59 L44.71,190.54 L44.82,189.48 L44.93,188.43 L45.04,187.37 L45.14,186.32 L45.25,185.27 L45.36,184.21 L45.47,183.16 L45.58,182.10 L45.70,181.05 L45.81,180.00 L45.92,178.94 L46.03,177.89 L46.14,176.83 L46.26,175.78 L46.37,174.73 L46.48,173.67 L46.60,172.62 L46.71,171.57 L46.83,170.51 L46.95,169.46 L47.06,168.41 L47.18,167.35 L47.30,166.30 L47.42,165.25 L47.54,164.19 L47.66,163.14 L47.78,162.09 L47.90,161.03 L48.02,159.98 L48.15,158.93 L48.27,157.88 L48.40,156.82 L48.52,155.77 L48.65,154.72 L48.78,153.67 L48.90,152.61 L49.03,151.56 L49.16,150.51 L49.29,149.46 L49.43,148.40 L49.56,147.35 L49.69,146.30 L49.83,145.25 L49.96,144.20 L50.10,143.14 L50.24,142.09 L50.38,141.04 L50.52,139.99 L50.66,138.94 L50.80,137.89 L50.94,136.83 L51.09,135.78 L51.23,134.73 L51.38,133.68 L51.53,132.63 L51.68,131.58 L51.83,130.53 L51.98,129.48 L52.13,128.43 L52.29,127.38 L52.44,126.33 L52.60,125.28 L52.76,124.23 L52.92,123.18 L53.08,122.13 L53.25,121.08 L53.41,120.03 L53.58,118.98 L53.75,117.93 L53.92,116.88 L54.09,115.84 L54.27,114.79 L54.45,113.74 L54.63,112.70 L54.81,111.65 L55.00,110.61 L55.19,109.57 L55.39,108.53 L55.58,107.49 L55.78,106.45 L55.99,105.41 L56.20,104.37 L56.41,103.34 L56.62,102.30 L56.84,101.27 L57.06,100.24 L57.29,99.21 L57.52,98.18 L57.76,97.15 L58.00,96.13 L58.25,95.10 L58.50,94.08 L58.76,93.06 L59.03,92.05 L59.31,91.04 L59.60,90.03 L59.92,89.03 L60.25,88.04 L60.61,87.05 L61.00,86.08 L61.41,85.11 L61.85,84.15 L62.32,83.20 L62.82,82.26 L63.34,81.34 L63.89,80.43 L64.47,79.52 L65.06,78.64 L65.68,77.76 L66.32,76.91 L66.98,76.06 L67.66,75.24 L68.37,74.43 L69.09,73.65 L69.83,72.88 L70.59,72.15 L71.38,71.44 L72.18,70.76 L73.00,70.10 L73.85,69.48 L74.71,68.90 L75.60,68.35 L76.50,67.83 L77.42,67.36 L78.36,66.92 L79.32,66.50 L80.29,66.11 L81.27,65.74 L82.25,65.39 L83.25,65.04 L84.24,64.69 L85.24,64.35 L86.23,64.00 L87.22,63.63 L88.20,63.26 L89.18,62.87 L90.15,62.46 L91.12,62.03 L92.07,61.59 L93.01,61.12 L93.95,60.63 L94.87,60.12 L95.78,59.58 L96.67,59.02 L97.56,58.44 L98.44,57.85 L99.32,57.24 L100.18,56.62 L101.05,55.99 L101.91,55.36 L102.78,54.73 L103.64,54.10 L104.51,53.48 L105.39,52.87 L106.27,52.27 L107.16,51.68 L108.05,51.10 L108.95,50.53 L109.85,49.97 L110.76,49.42 L111.67,48.88 L112.59,48.35 L113.52,47.83 L114.45,47.32 L115.38,46.82 L116.32,46.33 L117.27,45.85 L118.21,45.38 L119.17,44.92 L120.12,44.47 L121.08,44.02 L122.05,43.59 L123.02,43.16 L123.99,42.75 L124.96,42.34 L125.94,41.94 L126.93,41.54 L127.91,41.16 L128.90,40.78 L129.89,40.41 L130.88,40.05 L131.88,39.70 L132.88,39.35 L133.88,39.01 L134.89,38.68 L135.89,38.36 L136.90,38.04 L137.91,37.73 L138.92,37.43 L139.94,37.13 L140.95,36.84 L141.97,36.56 L142.99,36.28 L144.01,36.01 L145.03,35.74 L146.05,35.48 L147.07,35.23 L148.10,34.98 L149.13,34.74 L150.15,34.50 L151.18,34.27 L152.21,34.05 L153.24,33.83 L154.28,33.61 L155.31,33.40 L156.34,33.20 L157.38,33.00 L158.42,32.80 L159.46,32.61 L160.49,32.43 L161.53,32.25 L162.58,32.07 L163.62,31.90 L164.66,31.73 L165.70,31.57 L166.75,31.41 L167.79,31.26 L168.84,31.11 L169.89,30.96 L170.94,30.82 L171.99,30.68 L173.04,30.54 L174.09,30.41 L175.14,30.28 L176.19,30.16 L177.24,30.03 L178.30,29.91 L179.35,29.80 L180.40,29.69 L181.46,29.58 L182.51,29.47 L183.57,29.36 L184.63,29.26 L185.68,29.16 L186.74,29.07 L187.80,28.97 L188.86,28.88 L189.92,28.79 L190.98,28.70 L192.04,28.61 L193.10,28.53 L194.16,28.45 L195.22,28.37 L196.28,28.29 L197.34,28.21 L198.40,28.13 L199.46,28.06 L200.52,27.98 L201.59,27.91 L202.65,27.84 L203.71,27.77 L204.77,27.70 L205.83,27.63 L206.90,27.56 L207.96,27.49 L209.02,27.43 L210.08,27.36 L211.15,27.29 L212.21,27.23 L213.27,27.16 L214.33,27.09 L215.39,27.03 L216.45,26.96 L217.52,26.89 L218.58,26.83 L219.64,26.76 L220.70,26.69 L221.76,26.62 L222.82,26.55 L223.88,26.48 L224.94,26.41 L226.00,26.34 L227.06,26.27 L228.11,26.19 L229.17,26.12 L230.23,26.04 L231.29,25.96 L232.34,25.89 L233.40,25.81 L234.45,25.73 L235.51,25.65 L236.57,25.57 L237.62,25.49 L238.68,25.40 L239.73,25.32 L240.79,25.24 L241.84,25.15 L242.89,25.07 L243.95,24.98 L245.00,24.90 L246.05,24.81 L247.11,24.73 L248.16,24.64 L249.21,24.55 L250.27,24.47 L251.32,24.38 L252.37,24.29 L253.43,24.20 L254.48,24.12 L255.53,24.03 L256.59,23.94 L257.64,23.85 L258.69,23.77 L259.74,23.68 L260.80,23.59 L261.85,23.50 L262.90,23.42 L263.96,23.33 L265.01,23.25 L266.06,23.16 L267.12,23.07 L268.17,22.99 L269.22,22.90 L270.28,22.82 L271.33,22.74 L272.39,22.65 L273.44,22.57 L274.49,22.49 L275.55,22.41 L276.60,22.33 L277.66,22.25 L278.72,22.17 L279.77,22.09 L280.83,22.01 L281.88,21.94 L282.94,21.86 L284.00,21.79 L285.06,21.72 L286.11,21.64 L287.17,21.57 L288.23,21.50 L289.29,21.43 L290.35,21.37 L291.41,21.30 L292.47,21.23 L293.53,21.17 L294.59,21.11 L295.66,21.05 L296.72,20.99 L297.78,20.93 L298.84,20.87 L299.91,20.82 L300.97,20.77 L302.04,20.71 L303.10,20.66 L304.17,20.62 L305.24,20.57 L306.31,20.52 L307.37,20.50 L308.40,20.50 L327.00,20.50" stroke="#2c2cbc" stroke-width="1.25" stroke-dasharray="5.4,5.2" stroke-dashoffset="2.3"/>
<path d="M39.35,242.20 L39.80,241.34 L40.23,240.46 L40.66,239.57 L41.08,238.69 L41.50,237.81 L41.91,236.92 L42.33,236.03 L42.73,235.14 L43.14,234.25 L43.54,233.36 L43.94,232.46 L44.33,231.57 L44.72,230.67 L45.11,229.78 L45.49,228.88 L45.87,227.98 L46.25,227.07 L46.63,226.17 L47.00,225.27 L47.37,224.36 L47.74,223.46 L48.10,222.55 L48.47,221.64 L48.83,220.73 L49.18,219.82 L49.54,218.91 L49.89,217.99 L50.24,217.08 L50.59,216.16 L50.93,215.25 L51.27,214.33 L51.62,213.41 L51.95,212.50 L52.29,211.58 L52.63,210.66 L52.96,209.74 L53.29,208.82 L53.62,207.89 L53.95,206.97 L54.27,206.05 L54.60,205.12 L54.92,204.20 L55.24,203.27 L55.56,202.35 L55.88,201.42 L56.20,200.49 L56.52,199.57 L56.83,198.64 L57.15,197.71 L57.46,196.78 L57.77,195.85 L58.08,194.92 L58.39,193.99 L58.70,193.06 L59.01,192.13 L59.32,191.20 L59.63,190.27 L59.93,189.34 L60.24,188.41 L60.55,187.48 L60.85,186.55 L61.16,185.62 L61.46,184.68 L61.77,183.75 L62.07,182.82 L62.38,181.89 L62.68,180.96 L62.99,180.03 L63.29,179.09 L63.60,178.16 L63.90,177.23 L64.21,176.30 L64.51,175.37 L64.82,174.44 L65.12,173.51 L65.43,172.58 L65.74,171.65 L66.05,170.72 L66.35,169.79 L66.66,168.86 L66.97,167.94 L67.28,167.01 L67.60,166.08 L67.91,165.15 L68.22,164.23 L68.54,163.30 L68.85,162.38 L69.17,161.45 L69.49,160.53 L69.81,159.61 L70.13,158.68 L70.45,157.76 L70.78,156.84 L71.10,155.92 L71.43,155.00 L71.76,154.08 L72.09,153.16 L72.42,152.25 L72.76,151.33 L73.09,150.41 L73.43,149.50 L73.77,148.59 L74.11,147.67 L74.46,146.76 L74.81,145.85 L75.15,144.94 L75.51,144.03 L75.86,143.13 L76.22,142.22 L76.57,141.31 L76.94,140.41 L77.30,139.51 L77.67,138.61 L78.04,137.71 L78.41,136.81 L78.78,135.91 L79.16,135.01 L79.54,134.12 L79.92,133.23 L80.31,132.34 L80.70,131.44 L81.09,130.56 L81.49,129.67 L81.89,128.78 L82.29,127.90 L82.70,127.02 L83.11,126.13 L83.52,125.25 L83.94,124.38 L84.36,123.50 L84.79,122.63 L85.22,121.75 L85.65,120.88 L86.08,120.01 L86.52,119.15 L86.97,118.28 L87.42,117.42 L87.87,116.55 L88.33,115.69 L88.79,114.84 L89.25,113.98 L89.72,113.13 L90.20,112.28 L90.67,111.43 L91.16,110.58 L91.64,109.73 L92.14,108.89 L92.63,108.05 L93.14,107.21 L93.64,106.37 L94.15,105.54 L94.67,104.70 L95.19,103.87 L95.72,103.05 L96.25,102.22 L96.79,101.40 L97.33,100.58 L97.87,99.76 L98.42,98.94 L98.98,98.13 L99.54,97.32 L100.10,96.51 L100.67,95.70 L101.24,94.90 L101.81,94.09 L102.39,93.30 L102.97,92.50 L103.56,91.70 L104.15,90.91 L104.74,90.12 L105.34,89.34 L105.94,88.55 L106.55,87.77 L107.15,86.99 L107.76,86.22 L108.38,85.44 L108.99,84.67 L109.61,83.90 L110.23,83.14 L110.86,82.37 L111.48,81.61 L112.11,80.85 L112.74,80.10 L113.38,79.35 L114.01,78.60 L114.65,77.85 L115.29,77.11 L115.93,76.37 L116.58,75.63 L117.23,74.90 L117.88,74.17 L118.53,73.44 L119.19,72.72 L119.85,72.00 L120.52,71.29 L121.18,70.58 L121.86,69.88 L122.53,69.18 L123.21,68.49 L123.89,67.81 L124.58,67.13 L125.27,66.45 L125.97,65.78 L126.67,65.12 L127.37,64.47 L128.09,63.82 L128.80,63.18 L129.52,62.55 L130.25,61.92 L130.98,61.30 L131.72,60.69 L132.46,60.09 L133.21,59.50 L133.96,58.91 L134.72,58.34 L135.49,57.77 L136.26,57.21 L137.04,56.66 L137.83,56.12 L138.62,55.59 L139.42,55.08 L140.23,54.57 L141.04,54.07 L141.86,53.58 L142.69,53.10 L143.52,52.63 L144.36,52.17 L145.21,51.71 L146.06,51.27 L146.91,50.83 L147.78,50.41 L148.65,49.99 L149.52,49.58 L150.40,49.17 L151.28,48.78 L152.17,48.39 L153.06,48.01 L153.96,47.64 L154.86,47.27 L155.76,46.91 L156.67,46.55 L157.58,46.20 L158.50,45.86 L159.42,45.52 L160.34,45.19 L161.27,44.87 L162.20,44.54 L163.13,44.23 L164.06,43.92 L165.00,43.61 L165.93,43.31 L166.87,43.01 L167.82,42.71 L168.76,42.42 L169.71,42.13 L170.65,41.85 L171.60,41.57 L172.55,41.29 L173.50,41.01 L174.45,40.74 L175.40,40.47 L176.35,40.20 L177.30,39.93 L178.26,39.67 L179.21,39.40 L180.16,39.14 L181.11,38.88 L182.06,38.62 L183.01,38.36 L183.96,38.10 L184.92,37.85 L185.87,37.59 L186.82,37.34 L187.77,37.09 L188.72,36.84 L189.67,36.59 L190.62,36.34 L191.57,36.10 L192.52,35.86 L193.48,35.62 L194.43,35.38 L195.38,35.14 L196.33,34.90 L197.28,34.67 L198.23,34.43 L199.18,34.20 L200.13,33.97 L201.09,33.74 L202.04,33.52 L202.99,33.29 L203.94,33.07 L204.89,32.85 L205.84,32.63 L206.80,32.41 L207.75,32.19 L208.70,31.98 L209.65,31.77 L210.60,31.55 L211.56,31.34 L212.51,31.14 L213.46,30.93 L214.42,30.73 L215.37,30.53 L216.32,30.33 L217.28,30.13 L218.23,29.93 L219.18,29.74 L220.14,29.54 L221.09,29.35 L222.05,29.16 L223.00,28.97 L223.95,28.79 L224.91,28.61 L225.87,28.42 L226.82,28.24 L227.78,28.07 L228.73,27.89 L229.69,27.72 L230.64,27.55 L231.60,27.38 L232.56,27.21 L233.52,27.04 L234.47,26.88 L235.43,26.71 L236.39,26.55 L237.35,26.40 L238.31,26.24 L239.27,26.09 L240.23,25.93 L241.19,25.79 L242.15,25.64 L243.11,25.49 L244.07,25.35 L245.03,25.21 L245.99,25.07 L246.95,24.93 L247.91,24.79 L248.88,24.66 L249.84,24.53 L250.80,24.40 L251.77,24.27 L252.73,24.15 L253.69,24.03 L254.66,23.91 L255.63,23.79 L256.59,23.67 L257.56,23.56 L258.52,23.45 L259.49,23.34 L260.46,23.23 L261.43,23.13 L262.40,23.03 L263.37,22.93 L264.34,22.83 L265.31,22.73 L266.28,22.64 L267.25,22.55 L268.22,22.46 L269.19,22.37 L270.16,22.29 L271.14,22.21 L272.11,22.13 L273.08,22.05 L274.06,21.97 L275.03,21.90 L276.01,21.83 L276.99,21.76 L277.96,21.70 L278.94,21.64 L279.92,21.58 L280.90,21.52 L281.88,21.46 L282.86,21.41 L283.84,21.36 L284.82,21.31 L285.80,21.27 L286.79,21.22 L287.77,21.18 L288.75,21.14 L289.74,21.11 L290.72,21.07 L291.71,21.04 L292.69,21.02 L293.68,20.99 L294.67,20.97 L295.66,20.95 L296.65,20.93 L297.64,20.91 L298.63,20.90 L299.62,20.89 L300.61,20.88 L301.60,20.88 L302.60,20.88 L303.59,20.88 L304.59,20.88 L305.58,20.88 L306.58,20.89 L307.58,20.90 L308.40,20.50 L327.00,20.50" stroke="#7c2cd4" stroke-width="1.25"/>
</g>
<g transform="translate(39.35,256.70) scale(0.955,1.03)"><text class="tl" text-anchor="middle">0.0</text></g>
<g transform="translate(32.05,245.20) scale(0.955,1.03)"><text class="tl" text-anchor="end">0.0</text></g>
<g transform="translate(68.16,256.70) scale(0.955,1.03)"><text class="tl" text-anchor="middle">0.1</text><rect x="1.05" y="-1.26" width="2.47" height="1.71" fill="#fff"/><rect x="4.98" y="-1.26" width="2.15" height="1.71" fill="#fff"/></g>
<g transform="translate(32.05,222.98) scale(0.955,1.03)"><text class="tl" text-anchor="end">0.1</text><rect x="-5.65" y="-1.26" width="2.47" height="1.71" fill="#fff"/><rect x="-1.73" y="-1.26" width="2.15" height="1.71" fill="#fff"/></g>
<g transform="translate(96.96,256.70) scale(0.955,1.03)"><text class="tl" text-anchor="middle">0.2</text></g>
<g transform="translate(32.05,200.76) scale(0.955,1.03)"><text class="tl" text-anchor="end">0.2</text></g>
<g transform="translate(125.76,256.70) scale(0.955,1.03)"><text class="tl" text-anchor="middle">0.3</text></g>
<g transform="translate(32.05,178.54) scale(0.955,1.03)"><text class="tl" text-anchor="end">0.3</text></g>
<g transform="translate(154.57,256.70) scale(0.955,1.03)"><text class="tl" text-anchor="middle">0.4</text></g>
<g transform="translate(32.05,156.32) scale(0.955,1.03)"><text class="tl" text-anchor="end">0.4</text></g>
<g transform="translate(183.37,256.70) scale(0.955,1.03)"><text class="tl" text-anchor="middle">0.5</text></g>
<g transform="translate(32.05,134.10) scale(0.955,1.03)"><text class="tl" text-anchor="end">0.5</text></g>
<g transform="translate(212.18,256.70) scale(0.955,1.03)"><text class="tl" text-anchor="middle">0.6</text></g>
<g transform="translate(32.05,111.88) scale(0.955,1.03)"><text class="tl" text-anchor="end">0.6</text></g>
<g transform="translate(240.98,256.70) scale(0.955,1.03)"><text class="tl" text-anchor="middle">0.7</text></g>
<g transform="translate(32.05,89.66) scale(0.955,1.03)"><text class="tl" text-anchor="end">0.7</text></g>
<g transform="translate(269.79,256.70) scale(0.955,1.03)"><text class="tl" text-anchor="middle">0.8</text></g>
<g transform="translate(32.05,67.44) scale(0.955,1.03)"><text class="tl" text-anchor="end">0.8</text></g>
<g transform="translate(298.59,256.70) scale(0.955,1.03)"><text class="tl" text-anchor="middle">0.9</text></g>
<g transform="translate(32.05,45.22) scale(0.955,1.03)"><text class="tl" text-anchor="end">0.9</text></g>
<g transform="translate(327.40,256.70) scale(0.955,1.03)"><text class="tl" text-anchor="middle">1.0</text><rect x="-7.00" y="-1.26" width="2.47" height="1.71" fill="#fff"/><rect x="-3.07" y="-1.26" width="2.15" height="1.71" fill="#fff"/></g>
<g transform="translate(32.05,23.00) scale(0.955,1.03)"><text class="tl" text-anchor="end">1.0</text><rect x="-13.70" y="-1.26" width="2.47" height="1.71" fill="#fff"/><rect x="-9.78" y="-1.26" width="2.15" height="1.71" fill="#fff"/></g>
<text x="183.38" y="274.7" class="at" text-anchor="middle">False Positive Rate</text>
<text transform="translate(9.00,125.90) rotate(-90)" class="at" text-anchor="middle">True Positive Rate</text>
<text x="182.90" y="9.4" class="at" text-anchor="middle">(a)</text>
<rect x="163.40" y="131.60" width="157.00" height="99.60" fill="#fff" stroke="#666" stroke-width="1"/>
<path d="M172.00,147.40 H188.20" stroke="#d82c38" stroke-width="1.25" stroke-dasharray="5.4,5.2"/>
<text x="196.10" y="150.60" class="lg">Quasi-MQAPRank (this study)</text>
<path d="M172.00,158.92 H193.90" stroke="#807c38" stroke-width="1.25"/>
<text x="196.10" y="162.12" class="lg">ModFOLD5_single</text>
<path d="M172.00,170.44 H193.90" stroke="#74267e" stroke-width="1.25"/>
<text x="196.10" y="173.64" class="lg">MQAPsingleA</text>
<path d="M172.00,181.96 H193.90" stroke="#e696e6" stroke-width="1.25"/>
<text x="196.10" y="185.16" class="lg">MQAPsingle</text>
<path d="M172.00,193.48 H193.90" stroke="#24807a" stroke-width="1.25"/>
<text x="196.10" y="196.68" class="lg">MULTICOM-CLUSTER</text>
<path d="M172.00,205.00 H188.20" stroke="#2c2cbc" stroke-width="1.25" stroke-dasharray="5.4,5.2"/>
<text x="196.10" y="208.20" class="lg">MQAPRank (this study)</text>
<path d="M172.00,216.52 H193.90" stroke="#7c2cd4" stroke-width="1.25"/>
<text x="196.10" y="219.72" class="lg">VoroMQA</text>
<clipPath id="cb"><rect x="389.15" y="19.70" width="289.35" height="223.50"/></clipPath>
<path d="M390.15,20.00 L678.50,20.00 L678.50,242.20 L390.15,242.20 Z" fill="none" stroke="#111" stroke-width="1.5"/>
<path d="M390.15,242.20 v4.6 M390.15,242.20 h-4.6 M404.57,242.20 v2.4 M390.15,231.09 h-2.4 M418.98,242.20 v4.6 M390.15,219.98 h-4.6 M433.40,242.20 v2.4 M390.15,208.87 h-2.4 M447.82,242.20 v4.6 M390.15,197.76 h-4.6 M462.24,242.20 v2.4 M390.15,186.65 h-2.4 M476.65,242.20 v4.6 M390.15,175.54 h-4.6 M491.07,242.20 v2.4 M390.15,164.43 h-2.4 M505.49,242.20 v4.6 M390.15,153.32 h-4.6 M519.91,242.20 v2.4 M390.15,142.21 h-2.4 M534.33,242.20 v4.6 M390.15,131.10 h-4.6 M548.74,242.20 v2.4 M390.15,119.99 h-2.4 M563.16,242.20 v4.6 M390.15,108.88 h-4.6 M577.58,242.20 v2.4 M390.15,97.77 h-2.4 M592.00,242.20 v4.6 M390.15,86.66 h-4.6 M606.41,242.20 v2.4 M390.15,75.55 h-2.4 M620.83,242.20 v4.6 M390.15,64.44 h-4.6 M635.25,242.20 v2.4 M390.15,53.33 h-2.4 M649.66,242.20 v4.6 M390.15,42.22 h-4.6 M664.08,242.20 v2.4 M390.15,31.11 h-2.4 M678.50,242.20 v4.6 M390.15,20.00 h-4.6" stroke="#111" stroke-width="1.5" fill="none"/>
<g clip-path="url(#cb)" fill="none" stroke-linejoin="round">
<path d="M390.15,242.20 L390.28,241.47 L390.28,240.71 L390.27,239.96 L390.27,239.20 L390.27,238.45 L390.28,237.69 L390.28,236.93 L390.28,236.18 L390.28,235.42 L390.28,234.67 L390.28,233.91 L390.28,233.16 L390.28,232.40 L390.28,231.65 L390.29,230.89 L390.29,230.14 L390.29,229.38 L390.29,228.63 L390.30,227.87 L390.30,227.12 L390.30,226.36 L390.31,225.61 L390.31,224.86 L390.31,224.10 L390.32,223.35 L390.32,222.59 L390.33,221.84 L390.33,221.08 L390.34,220.33 L390.34,219.58 L390.35,218.82 L390.35,218.07 L390.36,217.31 L390.37,216.56 L390.37,215.81 L390.38,215.05 L390.39,214.30 L390.39,213.54 L390.40,212.79 L390.41,212.04 L390.42,211.28 L390.43,210.53 L390.44,209.78 L390.44,209.02 L390.45,208.27 L390.46,207.52 L390.47,206.76 L390.48,206.01 L390.49,205.26 L390.50,204.50 L390.51,203.75 L390.53,203.00 L390.54,202.25 L390.55,201.49 L390.56,200.74 L390.57,199.99 L390.59,199.23 L390.60,198.48 L390.61,197.73 L390.63,196.98 L390.64,196.22 L390.66,195.47 L390.67,194.72 L390.69,193.97 L390.70,193.21 L390.72,192.46 L390.73,191.71 L390.75,190.96 L390.77,190.21 L390.78,189.45 L390.80,188.70 L390.82,187.95 L390.84,187.20 L390.85,186.44 L390.87,185.69 L390.89,184.94 L390.91,184.19 L390.93,183.44 L390.95,182.68 L390.97,181.93 L390.99,181.18 L391.01,180.43 L391.03,179.68 L391.06,178.93 L391.08,178.17 L391.10,177.42 L391.12,176.67 L391.15,175.92 L391.17,175.17 L391.20,174.42 L391.22,173.66 L391.25,172.91 L391.27,172.16 L391.30,171.41 L391.32,170.66 L391.35,169.91 L391.38,169.15 L391.40,168.40 L391.43,167.65 L391.46,166.90 L391.49,166.15 L391.52,165.40 L391.55,164.65 L391.58,163.90 L391.61,163.14 L391.64,162.39 L391.67,161.64 L391.70,160.89 L391.73,160.14 L391.77,159.39 L391.80,158.64 L391.83,157.89 L391.87,157.13 L391.90,156.38 L391.93,155.63 L391.97,154.88 L392.01,154.13 L392.04,153.38 L392.08,152.63 L392.12,151.88 L392.15,151.13 L392.19,150.37 L392.23,149.62 L392.27,148.87 L392.31,148.12 L392.35,147.37 L392.39,146.62 L392.43,145.87 L392.47,145.12 L392.51,144.37 L392.55,143.61 L392.60,142.86 L392.64,142.11 L392.68,141.36 L392.73,140.61 L392.77,139.86 L392.82,139.11 L392.86,138.36 L392.91,137.61 L392.95,136.86 L393.00,136.10 L393.05,135.35 L393.10,134.60 L393.15,133.85 L393.20,133.10 L393.25,132.35 L393.30,131.60 L393.35,130.85 L393.40,130.10 L393.45,129.35 L393.50,128.59 L393.55,127.84 L393.61,127.09 L393.66,126.34 L393.72,125.59 L393.77,124.84 L393.83,124.09 L393.88,123.34 L393.94,122.59 L394.00,121.83 L394.06,121.08 L394.11,120.33 L394.17,119.58 L394.23,118.83 L394.29,118.08 L394.35,117.33 L394.41,116.58 L394.48,115.82 L394.54,115.07 L394.60,114.32 L394.67,113.57 L394.73,112.82 L394.79,112.07 L394.86,111.32 L394.93,110.57 L394.99,109.81 L395.06,109.06 L395.13,108.31 L395.20,107.56 L395.26,106.81 L395.33,106.06 L395.40,105.31 L395.48,104.55 L395.55,103.80 L395.62,103.05 L395.69,102.30 L395.77,101.55 L395.84,100.80 L395.92,100.05 L396.00,99.30 L396.07,98.54 L396.15,97.79 L396.23,97.04 L396.31,96.29 L396.40,95.54 L396.48,94.79 L396.56,94.04 L396.65,93.29 L396.73,92.54 L396.82,91.79 L396.91,91.04 L397.00,90.29 L397.09,89.54 L397.18,88.79 L397.27,88.04 L397.37,87.29 L397.46,86.54 L397.56,85.80 L397.66,85.05 L397.75,84.30 L397.86,83.55 L397.96,82.80 L398.06,82.05 L398.17,81.31 L398.27,80.56 L398.38,79.81 L398.49,79.07 L398.60,78.32 L398.71,77.57 L398.82,76.83 L398.94,76.08 L399.06,75.33 L399.17,74.59 L399.29,73.84 L399.42,73.10 L399.54,72.36 L399.66,71.61 L399.79,70.87 L399.92,70.12 L400.05,69.38 L400.18,68.64 L400.32,67.90 L400.45,67.15 L400.59,66.41 L400.73,65.67 L400.87,64.93 L401.01,64.19 L401.16,63.45 L401.30,62.71 L401.45,61.97 L401.60,61.23 L401.76,60.49 L401.91,59.75 L402.07,59.01 L402.23,58.28 L402.39,57.54 L402.55,56.80 L402.72,56.07 L402.88,55.33 L403.05,54.60 L403.23,53.86 L403.40,53.13 L403.58,52.39 L403.76,51.66 L403.94,50.93 L404.12,50.19 L404.31,49.46 L404.49,48.73 L404.68,48.00 L404.88,47.27 L405.07,46.54 L405.27,45.81 L405.47,45.08 L405.67,44.35 L405.88,43.62 L406.09,42.90 L406.30,42.17 L406.51,41.44 L406.73,40.72 L406.94,39.99 L407.16,39.27 L407.39,38.54 L407.61,37.82 L407.84,37.10 L408.08,36.38 L408.32,35.67 L408.57,34.96 L408.83,34.26 L409.10,33.57 L409.38,32.90 L409.68,32.23 L409.99,31.59 L410.33,30.96 L410.68,30.35 L411.05,29.76 L411.45,29.20 L411.87,28.66 L412.32,28.14 L412.79,27.66 L413.29,27.21 L413.83,26.78 L414.39,26.39 L414.99,26.03 L415.61,25.71 L416.25,25.41 L416.92,25.14 L417.61,24.90 L418.33,24.68 L419.05,24.50 L419.80,24.33 L420.56,24.19 L421.34,24.07 L422.12,23.97 L422.92,23.89 L423.72,23.82 L424.54,23.76 L425.35,23.72 L426.17,23.68 L426.99,23.65 L427.81,23.63 L428.63,23.60 L429.45,23.59 L430.26,23.57 L431.06,23.55 L431.86,23.52 L432.65,23.49 L433.43,23.46 L434.21,23.43 L434.98,23.40 L435.74,23.36 L436.51,23.32 L437.26,23.28 L438.02,23.23 L438.77,23.19 L439.51,23.14 L440.26,23.09 L441.00,23.05 L441.74,23.00 L442.49,22.95 L443.23,22.90 L443.97,22.85 L444.71,22.80 L445.45,22.75 L446.20,22.70 L446.94,22.65 L447.68,22.59 L448.43,22.54 L449.17,22.49 L449.92,22.44 L450.66,22.39 L451.41,22.34 L452.15,22.29 L452.90,22.24 L453.64,22.19 L454.39,22.14 L455.14,22.09 L455.88,22.04 L456.63,22.00 L457.38,21.95 L458.13,21.90 L458.88,21.85 L459.62,21.81 L460.37,21.76 L461.12,21.71 L461.87,21.67 L462.62,21.62 L463.37,21.58 L464.12,21.53 L464.87,21.49 L465.62,21.45 L466.37,21.40 L467.12,21.36 L467.87,21.32 L468.62,21.28 L469.38,21.24 L470.13,21.20 L470.88,21.16 L471.63,21.13 L472.38,21.09 L473.14,21.06 L473.89,21.02 L474.64,20.99 L475.40,20.96 L476.15,20.92 L476.90,20.89 L477.66,20.86 L478.41,20.84 L479.16,20.81 L479.92,20.78 L480.67,20.76 L481.42,20.73 L482.18,20.71 L482.93,20.69 L483.69,20.67 L484.44,20.65 L485.20,20.63 L485.95,20.62 L486.71,20.60 L487.46,20.59 L488.22,20.58 L488.97,20.57 L489.73,20.56 L490.48,20.55 L491.24,20.54 L491.99,20.54 L492.75,20.54 L493.50,20.54 L494.26,20.54 L495.00,20.50 L678.00,20.50" stroke="#807c38" stroke-width="1.25"/>
<path d="M390.15,242.20 L390.08,241.51 L390.11,240.85 L390.13,240.18 L390.16,239.52 L390.18,238.86 L390.20,238.19 L390.23,237.53 L390.25,236.87 L390.27,236.20 L390.29,235.54 L390.32,234.88 L390.34,234.21 L390.36,233.55 L390.38,232.89 L390.40,232.22 L390.42,231.56 L390.43,230.89 L390.45,230.23 L390.47,229.57 L390.49,228.90 L390.51,228.24 L390.52,227.57 L390.54,226.91 L390.56,226.24 L390.57,225.58 L390.59,224.91 L390.60,224.25 L390.62,223.58 L390.63,222.92 L390.65,222.25 L390.66,221.59 L390.68,220.92 L390.69,220.26 L390.70,219.59 L390.72,218.93 L390.73,218.26 L390.74,217.59 L390.75,216.93 L390.77,216.26 L390.78,215.60 L390.79,214.93 L390.80,214.26 L390.81,213.60 L390.83,212.93 L390.84,212.27 L390.85,211.60 L390.86,210.93 L390.87,210.27 L390.88,209.60 L390.89,208.93 L390.90,208.27 L390.91,207.60 L390.92,206.93 L390.93,206.27 L390.94,205.60 L390.95,204.93 L390.96,204.27 L390.97,203.60 L390.98,202.93 L390.99,202.27 L391.00,201.60 L391.01,200.93 L391.02,200.26 L391.03,199.60 L391.04,198.93 L391.05,198.26 L391.06,197.60 L391.07,196.93 L391.08,196.26 L391.09,195.59 L391.10,194.93 L391.11,194.26 L391.12,193.59 L391.13,192.92 L391.14,192.26 L391.15,191.59 L391.17,190.92 L391.18,190.26 L391.19,189.59 L391.20,188.92 L391.21,188.25 L391.22,187.59 L391.23,186.92 L391.24,186.25 L391.26,185.58 L391.27,184.92 L391.28,184.25 L391.29,183.58 L391.31,182.91 L391.32,182.25 L391.33,181.58 L391.34,180.91 L391.36,180.24 L391.37,179.58 L391.39,178.91 L391.40,178.24 L391.42,177.57 L391.43,176.91 L391.45,176.24 L391.46,175.57 L391.48,174.91 L391.49,174.24 L391.51,173.57 L391.53,172.90 L391.54,172.24 L391.56,171.57 L391.58,170.90 L391.60,170.23 L391.62,169.57 L391.63,168.90 L391.65,168.23 L391.67,167.57 L391.69,166.90 L391.71,166.23 L391.74,165.57 L391.76,164.90 L391.78,164.23 L391.80,163.57 L391.82,162.90 L391.85,162.23 L391.87,161.57 L391.90,160.90 L391.92,160.23 L391.95,159.57 L391.97,158.90 L392.00,158.23 L392.02,157.57 L392.05,156.90 L392.08,156.23 L392.11,155.57 L392.14,154.90 L392.17,154.24 L392.20,153.57 L392.23,152.90 L392.26,152.24 L392.29,151.57 L392.32,150.91 L392.36,150.24 L392.39,149.58 L392.42,148.91 L392.46,148.24 L392.50,147.58 L392.53,146.91 L392.57,146.25 L392.61,145.58 L392.65,144.92 L392.68,144.25 L392.72,143.59 L392.76,142.92 L392.81,142.26 L392.85,141.59 L392.89,140.93 L392.93,140.27 L392.98,139.60 L393.02,138.94 L393.07,138.27 L393.12,137.61 L393.16,136.94 L393.21,136.28 L393.26,135.62 L393.31,134.95 L393.36,134.29 L393.41,133.63 L393.46,132.96 L393.52,132.30 L393.57,131.64 L393.62,130.97 L393.68,130.31 L393.74,129.65 L393.79,128.99 L393.85,128.32 L393.91,127.66 L393.97,127.00 L394.03,126.34 L394.09,125.67 L394.16,125.01 L394.22,124.35 L394.28,123.69 L394.35,123.03 L394.42,122.36 L394.48,121.70 L394.55,121.04 L394.62,120.38 L394.69,119.72 L394.77,119.06 L394.84,118.40 L394.91,117.74 L394.99,117.08 L395.06,116.42 L395.14,115.76 L395.22,115.10 L395.30,114.44 L395.38,113.78 L395.46,113.12 L395.54,112.46 L395.62,111.80 L395.71,111.14 L395.79,110.48 L395.88,109.82 L395.97,109.16 L396.05,108.51 L396.14,107.85 L396.24,107.19 L396.33,106.53 L396.42,105.87 L396.52,105.22 L396.61,104.56 L396.71,103.90 L396.81,103.24 L396.91,102.59 L397.01,101.93 L397.11,101.27 L397.21,100.62 L397.32,99.96 L397.42,99.30 L397.53,98.65 L397.64,97.99 L397.75,97.34 L397.86,96.68 L397.97,96.03 L398.08,95.37 L398.20,94.72 L398.31,94.06 L398.43,93.41 L398.55,92.75 L398.67,92.10 L398.79,91.44 L398.92,90.79 L399.04,90.14 L399.17,89.48 L399.29,88.83 L399.42,88.18 L399.55,87.52 L399.68,86.87 L399.81,86.22 L399.95,85.57 L400.08,84.92 L400.22,84.26 L400.36,83.61 L400.50,82.96 L400.64,82.31 L400.78,81.66 L400.93,81.01 L401.07,80.36 L401.22,79.71 L401.37,79.06 L401.52,78.41 L401.67,77.76 L401.83,77.11 L401.98,76.46 L402.14,75.81 L402.30,75.16 L402.45,74.51 L402.62,73.87 L402.78,73.22 L402.94,72.57 L403.11,71.92 L403.28,71.27 L403.45,70.63 L403.62,69.98 L403.79,69.33 L403.96,68.69 L404.14,68.04 L404.32,67.40 L404.50,66.75 L404.68,66.10 L404.86,65.46 L405.05,64.81 L405.23,64.17 L405.42,63.53 L405.61,62.88 L405.80,62.24 L405.99,61.59 L406.19,60.95 L406.38,60.31 L406.58,59.66 L406.78,59.02 L406.98,58.38 L407.19,57.74 L407.39,57.10 L407.60,56.45 L407.81,55.81 L408.02,55.17 L408.23,54.53 L408.45,53.89 L408.66,53.25 L408.88,52.61 L409.10,51.97 L409.32,51.33 L409.55,50.69 L409.77,50.05 L410.00,49.41 L410.23,48.78 L410.46,48.14 L410.70,47.50 L410.94,46.87 L411.18,46.24 L411.42,45.61 L411.67,44.98 L411.92,44.36 L412.18,43.74 L412.44,43.12 L412.71,42.51 L412.98,41.90 L413.26,41.29 L413.54,40.69 L413.83,40.10 L414.13,39.51 L414.43,38.93 L414.74,38.35 L415.06,37.78 L415.38,37.22 L415.71,36.66 L416.05,36.11 L416.40,35.57 L416.76,35.04 L417.12,34.51 L417.50,34.00 L417.88,33.49 L418.27,33.00 L418.68,32.51 L419.09,32.03 L419.51,31.57 L419.95,31.11 L420.39,30.67 L420.85,30.24 L421.32,29.81 L421.80,29.41 L422.29,29.01 L422.79,28.63 L423.31,28.26 L423.84,27.90 L424.38,27.56 L424.94,27.23 L425.51,26.91 L426.10,26.61 L426.70,26.33 L427.31,26.06 L427.94,25.80 L428.57,25.56 L429.23,25.34 L429.89,25.12 L430.56,24.92 L431.24,24.73 L431.93,24.55 L432.62,24.39 L433.33,24.23 L434.03,24.08 L434.75,23.94 L435.46,23.81 L436.18,23.68 L436.90,23.57 L437.62,23.46 L438.34,23.35 L439.06,23.26 L439.78,23.16 L440.49,23.07 L441.20,22.99 L441.91,22.91 L442.61,22.83 L443.31,22.75 L443.99,22.67 L444.67,22.60 L445.34,22.52 L446.00,22.44 L446.65,22.37 L447.30,22.29 L447.93,22.21 L448.56,22.14 L449.17,22.06 L449.79,21.98 L450.40,21.90 L451.00,21.83 L451.60,21.75 L452.20,21.68 L452.80,21.61 L453.40,21.53 L454.00,21.46 L454.59,21.39 L455.19,21.32 L455.80,21.26 L456.40,21.19 L457.01,21.13 L457.63,21.07 L458.25,21.01 L458.88,20.95 L459.51,20.90 L460.15,20.85 L460.81,20.80 L461.47,20.75 L462.14,20.71 L462.83,20.67 L463.52,20.63 L464.23,20.60 L464.96,20.57 L465.70,20.55 L466.45,20.53 L467.23,20.51 L468.00,20.50 L678.00,20.50" stroke="#d82c38" stroke-width="1.25" stroke-dasharray="5.4,5.2" stroke-dashoffset="0"/>
<path d="M390.15,242.20 L390.31,241.42 L390.39,240.65 L390.48,239.88 L390.56,239.11 L390.64,238.34 L390.72,237.57 L390.80,236.80 L390.88,236.03 L390.96,235.26 L391.04,234.49 L391.12,233.72 L391.20,232.95 L391.27,232.18 L391.35,231.41 L391.42,230.64 L391.49,229.87 L391.57,229.09 L391.64,228.32 L391.71,227.55 L391.78,226.78 L391.85,226.01 L391.92,225.23 L391.99,224.46 L392.06,223.69 L392.13,222.91 L392.19,222.14 L392.26,221.37 L392.32,220.59 L392.39,219.82 L392.45,219.05 L392.52,218.27 L392.58,217.50 L392.65,216.73 L392.71,215.95 L392.77,215.18 L392.83,214.40 L392.89,213.63 L392.95,212.85 L393.02,212.08 L393.08,211.30 L393.14,210.53 L393.20,209.76 L393.25,208.98 L393.31,208.21 L393.37,207.43 L393.43,206.65 L393.49,205.88 L393.54,205.10 L393.60,204.33 L393.66,203.55 L393.72,202.78 L393.77,202.00 L393.83,201.23 L393.89,200.45 L393.94,199.68 L394.00,198.90 L394.05,198.12 L394.11,197.35 L394.16,196.57 L394.22,195.80 L394.28,195.02 L394.33,194.24 L394.39,193.47 L394.44,192.69 L394.50,191.92 L394.55,191.14 L394.61,190.36 L394.66,189.59 L394.72,188.81 L394.77,188.04 L394.83,187.26 L394.88,186.48 L394.94,185.71 L394.99,184.93 L395.05,184.16 L395.11,183.38 L395.16,182.60 L395.22,181.83 L395.27,181.05 L395.33,180.28 L395.39,179.50 L395.44,178.73 L395.50,177.95 L395.56,177.17 L395.62,176.40 L395.67,175.62 L395.73,174.85 L395.79,174.07 L395.85,173.30 L395.91,172.52 L395.97,171.75 L396.03,170.97 L396.09,170.20 L396.15,169.42 L396.21,168.65 L396.27,167.87 L396.33,167.10 L396.40,166.32 L396.46,165.55 L396.52,164.77 L396.59,164.00 L396.65,163.22 L396.71,162.45 L396.78,161.68 L396.85,160.90 L396.91,160.13 L396.98,159.35 L397.05,158.58 L397.11,157.81 L397.18,157.03 L397.25,156.26 L397.32,155.49 L397.39,154.72 L397.47,153.94 L397.54,153.17 L397.61,152.40 L397.68,151.63 L397.76,150.85 L397.83,150.08 L397.91,149.31 L397.99,148.54 L398.06,147.77 L398.14,147.00 L398.22,146.23 L398.30,145.45 L398.38,144.68 L398.46,143.91 L398.55,143.14 L398.63,142.37 L398.72,141.60 L398.80,140.83 L398.89,140.06 L398.97,139.29 L399.06,138.53 L399.15,137.76 L399.24,136.99 L399.33,136.22 L399.42,135.45 L399.52,134.68 L399.61,133.91 L399.71,133.15 L399.80,132.38 L399.90,131.61 L400.00,130.84 L400.09,130.08 L400.19,129.31 L400.29,128.54 L400.39,127.78 L400.50,127.01 L400.60,126.24 L400.70,125.48 L400.81,124.71 L400.91,123.94 L401.02,123.18 L401.13,122.41 L401.23,121.65 L401.34,120.88 L401.45,120.12 L401.56,119.35 L401.67,118.58 L401.78,117.82 L401.90,117.05 L402.01,116.29 L402.12,115.52 L402.24,114.76 L402.36,113.99 L402.47,113.23 L402.59,112.46 L402.71,111.70 L402.83,110.93 L402.95,110.17 L403.07,109.40 L403.19,108.64 L403.31,107.87 L403.43,107.11 L403.55,106.34 L403.68,105.58 L403.80,104.81 L403.93,104.05 L404.05,103.29 L404.18,102.52 L404.31,101.76 L404.44,100.99 L404.57,100.23 L404.69,99.46 L404.82,98.70 L404.96,97.93 L405.09,97.17 L405.22,96.40 L405.35,95.64 L405.49,94.87 L405.62,94.11 L405.75,93.34 L405.89,92.58 L406.02,91.81 L406.16,91.04 L406.30,90.28 L406.44,89.51 L406.57,88.75 L406.71,87.98 L406.85,87.22 L406.99,86.45 L407.13,85.68 L407.27,84.92 L407.41,84.15 L407.56,83.38 L407.70,82.62 L407.84,81.85 L407.99,81.08 L408.13,80.32 L408.28,79.55 L408.42,78.78 L408.57,78.01 L408.72,77.25 L408.86,76.48 L409.02,75.71 L409.17,74.94 L409.33,74.17 L409.48,73.41 L409.65,72.64 L409.81,71.87 L409.98,71.10 L410.15,70.33 L410.33,69.56 L410.51,68.79 L410.69,68.02 L410.88,67.25 L411.08,66.48 L411.28,65.71 L411.49,64.95 L411.70,64.18 L411.92,63.41 L412.15,62.64 L412.38,61.87 L412.62,61.10 L412.86,60.34 L413.12,59.58 L413.38,58.82 L413.65,58.07 L413.93,57.32 L414.22,56.58 L414.51,55.84 L414.82,55.11 L415.13,54.38 L415.45,53.66 L415.79,52.95 L416.13,52.25 L416.48,51.55 L416.85,50.87 L417.22,50.19 L417.61,49.52 L418.00,48.87 L418.41,48.22 L418.83,47.59 L419.27,46.97 L419.71,46.36 L420.17,45.77 L420.64,45.18 L421.12,44.62 L421.61,44.06 L422.12,43.53 L422.64,43.01 L423.18,42.50 L423.73,42.01 L424.29,41.54 L424.87,41.08 L425.46,40.63 L426.06,40.20 L426.67,39.78 L427.29,39.38 L427.92,38.99 L428.56,38.61 L429.22,38.24 L429.88,37.89 L430.55,37.55 L431.23,37.21 L431.92,36.89 L432.61,36.58 L433.32,36.28 L434.03,35.98 L434.74,35.70 L435.47,35.42 L436.20,35.16 L436.93,34.90 L437.67,34.64 L438.42,34.40 L439.16,34.16 L439.92,33.92 L440.67,33.69 L441.43,33.47 L442.20,33.25 L442.96,33.04 L443.73,32.83 L444.50,32.62 L445.27,32.42 L446.04,32.22 L446.81,32.02 L447.58,31.83 L448.35,31.63 L449.12,31.44 L449.89,31.25 L450.66,31.06 L451.42,30.87 L452.19,30.68 L452.95,30.49 L453.72,30.30 L454.48,30.11 L455.24,29.93 L456.00,29.74 L456.76,29.56 L457.52,29.38 L458.28,29.19 L459.04,29.01 L459.80,28.83 L460.56,28.65 L461.31,28.48 L462.07,28.30 L462.83,28.12 L463.58,27.95 L464.34,27.78 L465.09,27.61 L465.85,27.44 L466.60,27.27 L467.36,27.10 L468.11,26.93 L468.87,26.77 L469.62,26.60 L470.38,26.44 L471.13,26.28 L471.89,26.12 L472.65,25.96 L473.40,25.81 L474.16,25.65 L474.92,25.50 L475.68,25.35 L476.43,25.20 L477.19,25.05 L477.95,24.91 L478.71,24.76 L479.47,24.62 L480.23,24.48 L480.99,24.34 L481.75,24.20 L482.51,24.07 L483.27,23.93 L484.04,23.80 L484.80,23.67 L485.56,23.54 L486.33,23.42 L487.09,23.30 L487.85,23.18 L488.62,23.06 L489.38,22.94 L490.15,22.83 L490.91,22.71 L491.68,22.61 L492.45,22.50 L493.21,22.39 L493.98,22.29 L494.75,22.19 L495.52,22.09 L496.28,22.00 L497.05,21.91 L497.82,21.82 L498.59,21.73 L499.36,21.65 L500.13,21.56 L500.90,21.48 L501.67,21.41 L502.45,21.33 L503.22,21.26 L503.99,21.20 L504.76,21.13 L505.54,21.07 L506.31,21.01 L507.09,20.95 L507.86,20.90 L508.64,20.85 L509.41,20.80 L510.19,20.76 L510.97,20.72 L511.74,20.68 L512.52,20.65 L513.30,20.62 L514.08,20.59 L514.85,20.56 L515.63,20.54 L516.41,20.53 L517.19,20.51 L517.97,20.50 L518.76,20.50 L519.54,20.50 L520.32,20.50 L521.10,20.50 L521.88,20.50 L522.67,20.51 L523.45,20.52 L524.23,20.54 L525.00,20.50 L678.00,20.50" stroke="#74267e" stroke-width="1.25"/>
<path d="M390.15,242.20 L390.41,241.47 L390.49,240.71 L390.57,239.95 L390.65,239.19 L390.73,238.43 L390.81,237.67 L390.89,236.91 L390.97,236.14 L391.05,235.38 L391.12,234.62 L391.20,233.86 L391.28,233.10 L391.35,232.34 L391.43,231.58 L391.51,230.82 L391.58,230.06 L391.66,229.30 L391.73,228.54 L391.81,227.77 L391.88,227.01 L391.95,226.25 L392.03,225.49 L392.10,224.73 L392.17,223.97 L392.25,223.21 L392.32,222.45 L392.39,221.69 L392.46,220.93 L392.53,220.17 L392.60,219.41 L392.67,218.64 L392.74,217.88 L392.81,217.12 L392.88,216.36 L392.95,215.60 L393.02,214.84 L393.09,214.08 L393.16,213.32 L393.23,212.56 L393.30,211.80 L393.37,211.04 L393.44,210.28 L393.50,209.52 L393.57,208.76 L393.64,208.00 L393.71,207.24 L393.77,206.47 L393.84,205.71 L393.91,204.95 L393.98,204.19 L394.04,203.43 L394.11,202.67 L394.17,201.91 L394.24,201.15 L394.31,200.39 L394.37,199.63 L394.44,198.87 L394.51,198.11 L394.57,197.35 L394.64,196.59 L394.70,195.83 L394.77,195.07 L394.83,194.31 L394.90,193.55 L394.96,192.79 L395.03,192.03 L395.10,191.27 L395.16,190.51 L395.23,189.75 L395.29,188.99 L395.36,188.23 L395.42,187.47 L395.49,186.71 L395.55,185.95 L395.62,185.19 L395.68,184.43 L395.75,183.67 L395.81,182.91 L395.88,182.15 L395.94,181.39 L396.01,180.63 L396.07,179.87 L396.14,179.11 L396.21,178.35 L396.27,177.59 L396.34,176.83 L396.40,176.07 L396.47,175.31 L396.53,174.55 L396.60,173.79 L396.67,173.03 L396.73,172.27 L396.80,171.51 L396.87,170.75 L396.93,169.99 L397.00,169.23 L397.07,168.47 L397.13,167.71 L397.20,166.95 L397.27,166.19 L397.34,165.43 L397.40,164.67 L397.47,163.91 L397.54,163.15 L397.61,162.39 L397.68,161.63 L397.75,160.87 L397.82,160.11 L397.88,159.35 L397.95,158.59 L398.02,157.83 L398.09,157.07 L398.16,156.31 L398.23,155.56 L398.31,154.80 L398.38,154.04 L398.45,153.28 L398.52,152.52 L398.59,151.76 L398.66,151.00 L398.74,150.24 L398.81,149.48 L398.88,148.72 L398.96,147.96 L399.03,147.20 L399.10,146.44 L399.18,145.68 L399.25,144.93 L399.33,144.17 L399.40,143.41 L399.48,142.65 L399.56,141.89 L399.63,141.13 L399.71,140.37 L399.79,139.61 L399.86,138.85 L399.94,138.09 L400.02,137.34 L400.10,136.58 L400.18,135.82 L400.26,135.06 L400.34,134.30 L400.42,133.54 L400.50,132.78 L400.59,132.02 L400.67,131.27 L400.76,130.51 L400.84,129.75 L400.93,128.99 L401.01,128.23 L401.10,127.47 L401.19,126.72 L401.28,125.96 L401.37,125.20 L401.46,124.44 L401.56,123.68 L401.65,122.93 L401.74,122.17 L401.84,121.41 L401.94,120.65 L402.04,119.90 L402.14,119.14 L402.24,118.38 L402.34,117.62 L402.44,116.87 L402.55,116.11 L402.66,115.35 L402.76,114.60 L402.87,113.84 L402.98,113.08 L403.10,112.33 L403.21,111.57 L403.33,110.82 L403.45,110.06 L403.56,109.30 L403.69,108.55 L403.81,107.79 L403.93,107.04 L404.06,106.28 L404.19,105.53 L404.32,104.77 L404.45,104.02 L404.58,103.26 L404.72,102.51 L404.86,101.76 L405.00,101.00 L405.14,100.25 L405.28,99.50 L405.43,98.74 L405.58,97.99 L405.73,97.24 L405.88,96.48 L406.04,95.73 L406.19,94.98 L406.35,94.23 L406.52,93.47 L406.68,92.72 L406.85,91.97 L407.02,91.22 L407.19,90.47 L407.36,89.72 L407.54,88.97 L407.72,88.22 L407.90,87.47 L408.09,86.72 L408.27,85.97 L408.46,85.22 L408.66,84.47 L408.85,83.72 L409.05,82.97 L409.25,82.22 L409.46,81.47 L409.67,80.72 L409.88,79.98 L410.09,79.23 L410.31,78.48 L410.53,77.74 L410.75,76.99 L410.98,76.25 L411.21,75.50 L411.44,74.76 L411.68,74.02 L411.92,73.28 L412.17,72.54 L412.42,71.81 L412.68,71.08 L412.94,70.35 L413.20,69.62 L413.47,68.89 L413.75,68.17 L414.03,67.45 L414.31,66.74 L414.61,66.03 L414.90,65.32 L415.21,64.62 L415.52,63.92 L415.83,63.22 L416.16,62.53 L416.49,61.84 L416.82,61.16 L417.16,60.49 L417.51,59.82 L417.87,59.15 L418.23,58.49 L418.60,57.84 L418.98,57.19 L419.37,56.55 L419.76,55.91 L420.16,55.28 L420.57,54.66 L420.99,54.04 L421.42,53.43 L421.85,52.83 L422.30,52.24 L422.75,51.65 L423.21,51.08 L423.68,50.51 L424.16,49.94 L424.65,49.39 L425.15,48.84 L425.66,48.31 L426.17,47.78 L426.70,47.26 L427.23,46.74 L427.77,46.24 L428.32,45.74 L428.88,45.25 L429.44,44.76 L430.01,44.29 L430.59,43.82 L431.18,43.36 L431.77,42.91 L432.37,42.46 L432.98,42.02 L433.59,41.59 L434.21,41.16 L434.84,40.75 L435.47,40.33 L436.11,39.93 L436.75,39.53 L437.40,39.14 L438.06,38.76 L438.72,38.38 L439.38,38.01 L440.05,37.64 L440.72,37.28 L441.40,36.93 L442.09,36.59 L442.77,36.25 L443.46,35.91 L444.16,35.58 L444.86,35.26 L445.56,34.95 L446.26,34.64 L446.97,34.33 L447.68,34.03 L448.40,33.74 L449.11,33.45 L449.83,33.17 L450.56,32.89 L451.28,32.62 L452.01,32.35 L452.73,32.09 L453.46,31.83 L454.20,31.58 L454.93,31.33 L455.67,31.09 L456.40,30.85 L457.14,30.61 L457.88,30.38 L458.63,30.16 L459.37,29.94 L460.11,29.72 L460.86,29.50 L461.61,29.29 L462.36,29.09 L463.10,28.88 L463.85,28.68 L464.60,28.49 L465.36,28.29 L466.11,28.10 L466.86,27.92 L467.61,27.73 L468.36,27.55 L469.12,27.37 L469.87,27.20 L470.62,27.02 L471.38,26.85 L472.13,26.68 L472.88,26.51 L473.63,26.35 L474.39,26.19 L475.14,26.02 L475.89,25.87 L476.64,25.71 L477.39,25.55 L478.14,25.40 L478.89,25.25 L479.64,25.10 L480.39,24.95 L481.14,24.80 L481.88,24.66 L482.63,24.52 L483.38,24.38 L484.13,24.24 L484.88,24.11 L485.63,23.98 L486.37,23.85 L487.12,23.72 L487.87,23.59 L488.62,23.47 L489.36,23.34 L490.11,23.23 L490.86,23.11 L491.61,22.99 L492.36,22.88 L493.10,22.77 L493.85,22.66 L494.60,22.56 L495.35,22.45 L496.10,22.35 L496.85,22.25 L497.60,22.16 L498.35,22.07 L499.10,21.97 L499.85,21.89 L500.60,21.80 L501.35,21.72 L502.10,21.64 L502.85,21.56 L503.61,21.48 L504.36,21.41 L505.11,21.34 L505.87,21.27 L506.62,21.21 L507.38,21.14 L508.14,21.08 L508.89,21.03 L509.65,20.97 L510.41,20.92 L511.17,20.87 L511.93,20.83 L512.69,20.78 L513.45,20.74 L514.21,20.71 L514.98,20.67 L515.74,20.64 L516.51,20.61 L517.27,20.59 L518.04,20.56 L518.81,20.54 L519.57,20.53 L520.34,20.51 L521.12,20.50 L521.89,20.50 L522.66,20.50 L523.44,20.50 L524.21,20.50 L525.00,20.50 L678.00,20.50" stroke="#e696e6" stroke-width="1.25"/>
<path d="M390.15,242.20 L390.38,241.48 L390.46,240.72 L390.55,239.96 L390.63,239.19 L390.71,238.43 L390.79,237.67 L390.88,236.91 L390.96,236.15 L391.04,235.38 L391.13,234.62 L391.21,233.86 L391.30,233.10 L391.38,232.34 L391.46,231.58 L391.55,230.82 L391.63,230.06 L391.72,229.30 L391.80,228.54 L391.89,227.78 L391.97,227.02 L392.06,226.26 L392.15,225.50 L392.23,224.74 L392.32,223.98 L392.40,223.22 L392.49,222.46 L392.58,221.70 L392.67,220.94 L392.75,220.18 L392.84,219.42 L392.93,218.67 L393.02,217.91 L393.10,217.15 L393.19,216.39 L393.28,215.63 L393.37,214.88 L393.46,214.12 L393.55,213.36 L393.64,212.60 L393.73,211.85 L393.82,211.09 L393.91,210.33 L394.00,209.57 L394.09,208.82 L394.18,208.06 L394.28,207.30 L394.37,206.55 L394.46,205.79 L394.55,205.04 L394.64,204.28 L394.74,203.52 L394.83,202.77 L394.93,202.01 L395.02,201.26 L395.11,200.50 L395.21,199.75 L395.30,198.99 L395.40,198.23 L395.49,197.48 L395.59,196.72 L395.69,195.97 L395.78,195.21 L395.88,194.46 L395.98,193.70 L396.07,192.95 L396.17,192.19 L396.27,191.44 L396.37,190.69 L396.47,189.93 L396.57,189.18 L396.67,188.42 L396.77,187.67 L396.87,186.91 L396.97,186.16 L397.07,185.41 L397.17,184.65 L397.27,183.90 L397.37,183.14 L397.48,182.39 L397.58,181.64 L397.68,180.88 L397.79,180.13 L397.89,179.38 L398.00,178.62 L398.10,177.87 L398.21,177.12 L398.31,176.36 L398.42,175.61 L398.52,174.86 L398.63,174.10 L398.74,173.35 L398.85,172.60 L398.96,171.84 L399.06,171.09 L399.17,170.34 L399.28,169.58 L399.39,168.83 L399.50,168.08 L399.61,167.33 L399.73,166.57 L399.84,165.82 L399.95,165.07 L400.06,164.31 L400.18,163.56 L400.29,162.81 L400.40,162.06 L400.52,161.30 L400.63,160.55 L400.75,159.80 L400.86,159.04 L400.98,158.29 L401.10,157.54 L401.21,156.79 L401.33,156.03 L401.45,155.28 L401.57,154.53 L401.69,153.78 L401.81,153.02 L401.93,152.27 L402.05,151.52 L402.17,150.76 L402.29,150.01 L402.42,149.26 L402.54,148.51 L402.66,147.75 L402.79,147.00 L402.91,146.25 L403.04,145.50 L403.16,144.74 L403.29,143.99 L403.42,143.24 L403.54,142.48 L403.67,141.73 L403.80,140.98 L403.93,140.22 L404.06,139.47 L404.19,138.72 L404.32,137.97 L404.45,137.21 L404.58,136.46 L404.71,135.71 L404.85,134.95 L404.98,134.20 L405.12,133.45 L405.25,132.69 L405.39,131.94 L405.53,131.19 L405.67,130.44 L405.81,129.69 L405.95,128.93 L406.09,128.18 L406.23,127.43 L406.38,126.68 L406.52,125.93 L406.67,125.18 L406.82,124.42 L406.97,123.67 L407.12,122.92 L407.27,122.17 L407.42,121.42 L407.58,120.67 L407.73,119.92 L407.89,119.18 L408.05,118.43 L408.21,117.68 L408.37,116.93 L408.53,116.18 L408.70,115.44 L408.87,114.69 L409.04,113.94 L409.21,113.20 L409.38,112.45 L409.55,111.71 L409.73,110.96 L409.91,110.22 L410.09,109.48 L410.27,108.73 L410.45,107.99 L410.64,107.25 L410.83,106.51 L411.02,105.77 L411.21,105.03 L411.41,104.29 L411.60,103.55 L411.80,102.81 L412.00,102.08 L412.21,101.34 L412.41,100.60 L412.62,99.87 L412.83,99.13 L413.05,98.40 L413.26,97.67 L413.48,96.93 L413.70,96.20 L413.92,95.47 L414.15,94.74 L414.38,94.01 L414.61,93.28 L414.85,92.56 L415.08,91.83 L415.32,91.10 L415.57,90.38 L415.81,89.66 L416.06,88.93 L416.31,88.21 L416.57,87.49 L416.82,86.77 L417.09,86.05 L417.35,85.33 L417.62,84.61 L417.89,83.90 L418.16,83.18 L418.44,82.47 L418.72,81.75 L419.00,81.04 L419.29,80.33 L419.58,79.62 L419.87,78.91 L420.17,78.20 L420.47,77.50 L420.77,76.79 L421.08,76.09 L421.39,75.39 L421.71,74.69 L422.03,73.99 L422.35,73.30 L422.68,72.60 L423.01,71.91 L423.35,71.22 L423.69,70.54 L424.03,69.86 L424.38,69.18 L424.74,68.50 L425.10,67.83 L425.46,67.16 L425.83,66.49 L426.21,65.83 L426.59,65.17 L426.97,64.51 L427.36,63.86 L427.75,63.21 L428.16,62.57 L428.56,61.93 L428.97,61.29 L429.39,60.66 L429.81,60.04 L430.24,59.42 L430.68,58.80 L431.12,58.19 L431.57,57.58 L432.02,56.98 L432.48,56.39 L432.95,55.80 L433.42,55.22 L433.90,54.64 L434.38,54.07 L434.88,53.50 L435.38,52.94 L435.88,52.39 L436.39,51.84 L436.91,51.30 L437.44,50.77 L437.98,50.24 L438.52,49.73 L439.07,49.21 L439.62,48.71 L440.18,48.21 L440.75,47.71 L441.33,47.23 L441.91,46.75 L442.49,46.27 L443.09,45.80 L443.68,45.34 L444.29,44.89 L444.90,44.44 L445.51,43.99 L446.13,43.55 L446.76,43.12 L447.39,42.69 L448.02,42.27 L448.66,41.85 L449.30,41.44 L449.95,41.03 L450.60,40.63 L451.26,40.23 L451.92,39.84 L452.58,39.45 L453.25,39.07 L453.92,38.69 L454.59,38.31 L455.27,37.94 L455.94,37.58 L456.63,37.22 L457.31,36.86 L458.00,36.51 L458.68,36.16 L459.38,35.81 L460.07,35.47 L460.77,35.13 L461.46,34.80 L462.16,34.47 L462.87,34.15 L463.57,33.82 L464.27,33.51 L464.98,33.19 L465.69,32.88 L466.40,32.58 L467.11,32.27 L467.82,31.97 L468.53,31.68 L469.25,31.39 L469.96,31.10 L470.68,30.81 L471.40,30.53 L472.11,30.26 L472.83,29.98 L473.55,29.71 L474.27,29.45 L475.00,29.19 L475.72,28.93 L476.44,28.68 L477.17,28.43 L477.89,28.18 L478.62,27.94 L479.34,27.71 L480.07,27.47 L480.80,27.25 L481.53,27.02 L482.26,26.80 L482.99,26.59 L483.72,26.38 L484.46,26.17 L485.19,25.97 L485.92,25.78 L486.66,25.58 L487.39,25.40 L488.13,25.21 L488.87,25.03 L489.60,24.86 L490.34,24.69 L491.08,24.52 L491.82,24.36 L492.56,24.20 L493.31,24.04 L494.05,23.89 L494.79,23.74 L495.53,23.60 L496.28,23.46 L497.02,23.33 L497.77,23.19 L498.52,23.07 L499.26,22.94 L500.01,22.82 L500.76,22.70 L501.51,22.59 L502.26,22.48 L503.01,22.37 L503.76,22.27 L504.51,22.17 L505.26,22.08 L506.02,21.98 L506.77,21.89 L507.53,21.81 L508.28,21.73 L509.04,21.65 L509.79,21.57 L510.55,21.50 L511.31,21.43 L512.06,21.36 L512.82,21.30 L513.58,21.24 L514.34,21.18 L515.10,21.12 L515.86,21.07 L516.62,21.02 L517.38,20.98 L518.14,20.93 L518.91,20.89 L519.67,20.86 L520.43,20.82 L521.20,20.79 L521.96,20.76 L522.73,20.73 L523.49,20.71 L524.26,20.69 L525.03,20.67 L525.79,20.65 L526.56,20.63 L527.33,20.62 L528.10,20.61 L528.87,20.60 L529.63,20.60 L530.40,20.60 L531.17,20.59 L531.95,20.60 L532.72,20.60 L533.49,20.60 L534.26,20.61 L535.00,20.50 L678.00,20.50" stroke="#24807a" stroke-width="1.25"/>
<path d="M390.15,242.20 L390.70,241.50 L391.02,240.83 L391.34,240.16 L391.66,239.49 L391.98,238.82 L392.30,238.15 L392.61,237.47 L392.92,236.80 L393.23,236.12 L393.54,235.45 L393.85,234.77 L394.15,234.09 L394.46,233.41 L394.76,232.73 L395.06,232.05 L395.36,231.37 L395.66,230.69 L395.95,230.01 L396.25,229.32 L396.54,228.64 L396.83,227.95 L397.12,227.26 L397.41,226.58 L397.70,225.89 L397.98,225.20 L398.27,224.51 L398.55,223.82 L398.84,223.13 L399.12,222.44 L399.40,221.74 L399.67,221.05 L399.95,220.36 L400.23,219.66 L400.50,218.97 L400.78,218.27 L401.05,217.57 L401.32,216.88 L401.59,216.18 L401.86,215.48 L402.13,214.78 L402.39,214.08 L402.66,213.38 L402.92,212.68 L403.19,211.98 L403.45,211.27 L403.71,210.57 L403.97,209.87 L404.23,209.16 L404.49,208.46 L404.75,207.76 L405.01,207.05 L405.27,206.34 L405.52,205.64 L405.78,204.93 L406.03,204.22 L406.28,203.52 L406.54,202.81 L406.79,202.10 L407.04,201.39 L407.29,200.68 L407.54,199.97 L407.79,199.26 L408.04,198.55 L408.29,197.84 L408.53,197.13 L408.78,196.42 L409.03,195.70 L409.27,194.99 L409.52,194.28 L409.76,193.57 L410.01,192.85 L410.25,192.14 L410.49,191.42 L410.74,190.71 L410.98,190.00 L411.22,189.28 L411.46,188.57 L411.70,187.85 L411.94,187.14 L412.19,186.42 L412.43,185.71 L412.67,184.99 L412.91,184.27 L413.14,183.56 L413.38,182.84 L413.62,182.13 L413.86,181.41 L414.10,180.69 L414.34,179.98 L414.58,179.26 L414.82,178.54 L415.06,177.82 L415.29,177.11 L415.53,176.39 L415.77,175.67 L416.01,174.96 L416.25,174.24 L416.48,173.52 L416.72,172.81 L416.96,172.09 L417.20,171.37 L417.44,170.65 L417.68,169.94 L417.92,169.22 L418.15,168.50 L418.39,167.79 L418.63,167.07 L418.87,166.35 L419.11,165.64 L419.35,164.92 L419.59,164.20 L419.83,163.49 L420.07,162.77 L420.32,162.06 L420.56,161.34 L420.80,160.63 L421.04,159.91 L421.28,159.20 L421.53,158.48 L421.77,157.77 L422.02,157.05 L422.26,156.34 L422.51,155.62 L422.75,154.91 L423.00,154.20 L423.24,153.48 L423.49,152.77 L423.74,152.06 L423.99,151.35 L424.24,150.64 L424.49,149.93 L424.74,149.21 L424.99,148.50 L425.24,147.79 L425.49,147.08 L425.75,146.37 L426.00,145.67 L426.26,144.96 L426.51,144.25 L426.77,143.54 L427.03,142.83 L427.28,142.13 L427.54,141.42 L427.80,140.72 L428.07,140.01 L428.33,139.31 L428.59,138.60 L428.85,137.90 L429.12,137.19 L429.39,136.49 L429.65,135.79 L429.92,135.09 L430.19,134.39 L430.46,133.69 L430.73,132.99 L431.00,132.29 L431.28,131.59 L431.55,130.89 L431.83,130.19 L432.11,129.50 L432.38,128.80 L432.66,128.11 L432.95,127.41 L433.23,126.72 L433.51,126.02 L433.80,125.33 L434.08,124.64 L434.37,123.95 L434.66,123.26 L434.95,122.57 L435.24,121.88 L435.53,121.19 L435.83,120.51 L436.13,119.82 L436.42,119.13 L436.72,118.45 L437.02,117.77 L437.33,117.08 L437.63,116.40 L437.94,115.72 L438.24,115.04 L438.55,114.36 L438.86,113.68 L439.17,113.00 L439.49,112.33 L439.80,111.65 L440.12,110.98 L440.44,110.30 L440.76,109.63 L441.08,108.96 L441.41,108.29 L441.73,107.62 L442.06,106.95 L442.39,106.28 L442.72,105.61 L443.06,104.95 L443.39,104.28 L443.73,103.62 L444.07,102.96 L444.41,102.29 L444.75,101.63 L445.10,100.97 L445.45,100.32 L445.79,99.66 L446.15,99.00 L446.50,98.35 L446.86,97.69 L447.21,97.04 L447.57,96.39 L447.94,95.74 L448.30,95.09 L448.67,94.44 L449.03,93.80 L449.41,93.15 L449.78,92.51 L450.15,91.86 L450.53,91.22 L450.91,90.58 L451.30,89.94 L451.68,89.31 L452.07,88.67 L452.46,88.03 L452.85,87.40 L453.24,86.77 L453.64,86.14 L454.04,85.51 L454.44,84.88 L454.85,84.25 L455.25,83.63 L455.66,83.00 L456.07,82.38 L456.49,81.76 L456.91,81.14 L457.33,80.52 L457.75,79.90 L458.17,79.29 L458.60,78.67 L459.03,78.06 L459.46,77.45 L459.90,76.84 L460.34,76.23 L460.78,75.62 L461.22,75.02 L461.67,74.42 L462.12,73.81 L462.57,73.21 L463.03,72.61 L463.49,72.02 L463.95,71.42 L464.41,70.83 L464.88,70.24 L465.35,69.64 L465.83,69.06 L466.30,68.47 L466.78,67.88 L467.26,67.30 L467.75,66.72 L468.23,66.14 L468.72,65.56 L469.22,64.98 L469.71,64.41 L470.21,63.84 L470.71,63.27 L471.22,62.70 L471.73,62.13 L472.24,61.57 L472.75,61.01 L473.27,60.45 L473.78,59.89 L474.30,59.34 L474.83,58.79 L475.36,58.24 L475.88,57.69 L476.42,57.15 L476.95,56.60 L477.49,56.07 L478.03,55.53 L478.57,54.99 L479.11,54.46 L479.66,53.93 L480.21,53.41 L480.77,52.89 L481.32,52.37 L481.88,51.85 L482.44,51.33 L483.00,50.82 L483.57,50.31 L484.14,49.81 L484.71,49.31 L485.28,48.81 L485.85,48.31 L486.43,47.82 L487.01,47.33 L487.60,46.84 L488.18,46.36 L488.77,45.88 L489.36,45.40 L489.95,44.93 L490.55,44.46 L491.14,43.99 L491.74,43.53 L492.34,43.07 L492.95,42.62 L493.55,42.17 L494.16,41.72 L494.77,41.27 L495.39,40.83 L496.00,40.40 L496.62,39.96 L497.24,39.54 L497.86,39.11 L498.49,38.69 L499.11,38.27 L499.74,37.86 L500.37,37.45 L501.01,37.05 L501.64,36.65 L502.28,36.25 L502.92,35.86 L503.56,35.47 L504.21,35.09 L504.85,34.71 L505.50,34.33 L506.15,33.96 L506.80,33.60 L507.46,33.23 L508.11,32.88 L508.77,32.53 L509.43,32.18 L510.09,31.83 L510.76,31.50 L511.43,31.16 L512.09,30.83 L512.76,30.51 L513.44,30.19 L514.11,29.88 L514.79,29.57 L515.46,29.26 L516.14,28.96 L516.83,28.67 L517.51,28.38 L518.19,28.09 L518.88,27.81 L519.57,27.54 L520.26,27.27 L520.96,27.01 L521.65,26.75 L522.35,26.49 L523.05,26.24 L523.75,26.00 L524.45,25.76 L525.15,25.53 L525.86,25.30 L526.56,25.08 L527.27,24.86 L527.98,24.65 L528.70,24.45 L529.41,24.24 L530.13,24.05 L530.85,23.86 L531.56,23.67 L532.29,23.50 L533.01,23.32 L533.73,23.15 L534.46,22.99 L535.19,22.83 L535.92,22.68 L536.65,22.54 L537.38,22.40 L538.12,22.26 L538.85,22.13 L539.59,22.01 L540.33,21.90 L541.07,21.78 L541.81,21.68 L542.56,21.58 L543.30,21.48 L544.05,21.40 L544.80,21.31 L545.55,21.24 L546.30,21.17 L547.06,21.10 L547.81,21.05 L548.57,20.99 L549.33,20.95 L550.09,20.91 L550.85,20.87 L551.61,20.85 L552.38,20.82 L553.14,20.81 L553.91,20.80 L554.68,20.79 L555.45,20.80 L556.22,20.81 L556.99,20.82 L557.77,20.84 L558.54,20.87 L559.32,20.91 L560.00,20.50 L678.00,20.50" stroke="#7c2cd4" stroke-width="1.25"/>
<path d="M390.15,242.20 L390.34,241.28 L390.49,240.40 L390.63,239.52 L390.77,238.64 L390.92,237.76 L391.06,236.87 L391.20,235.99 L391.34,235.10 L391.48,234.21 L391.63,233.33 L391.77,232.44 L391.91,231.55 L392.05,230.66 L392.19,229.77 L392.33,228.88 L392.47,227.99 L392.62,227.10 L392.76,226.20 L392.90,225.31 L393.04,224.42 L393.19,223.52 L393.33,222.63 L393.48,221.74 L393.62,220.84 L393.77,219.95 L393.92,219.05 L394.07,218.16 L394.22,217.26 L394.37,216.37 L394.52,215.47 L394.67,214.58 L394.83,213.68 L394.98,212.79 L395.14,211.89 L395.30,210.99 L395.46,210.10 L395.62,209.21 L395.78,208.31 L395.95,207.42 L396.11,206.52 L396.28,205.63 L396.45,204.73 L396.62,203.84 L396.80,202.95 L396.97,202.06 L397.15,201.16 L397.33,200.27 L397.51,199.38 L397.70,198.49 L397.89,197.60 L398.08,196.71 L398.27,195.83 L398.46,194.94 L398.66,194.05 L398.86,193.17 L399.06,192.28 L399.27,191.40 L399.48,190.52 L399.69,189.63 L399.90,188.75 L400.12,187.87 L400.34,186.99 L400.57,186.11 L400.79,185.24 L401.02,184.36 L401.26,183.49 L401.49,182.61 L401.73,181.74 L401.98,180.87 L402.23,180.00 L402.48,179.13 L402.73,178.27 L402.99,177.40 L403.26,176.54 L403.52,175.68 L403.79,174.81 L404.07,173.96 L404.35,173.10 L404.63,172.24 L404.91,171.38 L405.20,170.53 L405.49,169.68 L405.79,168.83 L406.09,167.98 L406.39,167.13 L406.70,166.28 L407.01,165.43 L407.32,164.59 L407.63,163.74 L407.95,162.90 L408.27,162.06 L408.60,161.22 L408.93,160.38 L409.26,159.54 L409.59,158.71 L409.93,157.87 L410.27,157.04 L410.61,156.21 L410.96,155.37 L411.31,154.54 L411.66,153.71 L412.01,152.88 L412.37,152.06 L412.73,151.23 L413.09,150.40 L413.46,149.58 L413.82,148.76 L414.19,147.93 L414.57,147.11 L414.94,146.29 L415.32,145.47 L415.70,144.65 L416.08,143.84 L416.46,143.02 L416.85,142.20 L417.23,141.39 L417.63,140.57 L418.02,139.76 L418.41,138.95 L418.81,138.14 L419.21,137.33 L419.61,136.52 L420.01,135.71 L420.41,134.90 L420.82,134.09 L421.23,133.28 L421.63,132.48 L422.05,131.67 L422.46,130.87 L422.87,130.06 L423.29,129.26 L423.71,128.46 L424.12,127.66 L424.54,126.86 L424.97,126.06 L425.39,125.26 L425.81,124.46 L426.24,123.66 L426.67,122.86 L427.09,122.06 L427.52,121.27 L427.95,120.47 L428.39,119.67 L428.82,118.88 L429.25,118.08 L429.69,117.29 L430.12,116.50 L430.56,115.70 L430.99,114.91 L431.43,114.12 L431.87,113.33 L432.31,112.53 L432.75,111.74 L433.19,110.95 L433.63,110.16 L434.08,109.37 L434.52,108.58 L434.96,107.79 L435.41,107.01 L435.85,106.22 L436.30,105.43 L436.75,104.65 L437.20,103.86 L437.65,103.08 L438.10,102.29 L438.55,101.51 L439.01,100.73 L439.46,99.95 L439.92,99.17 L440.38,98.39 L440.84,97.62 L441.31,96.84 L441.77,96.07 L442.24,95.30 L442.71,94.53 L443.18,93.76 L443.65,92.99 L444.13,92.22 L444.61,91.46 L445.09,90.70 L445.57,89.94 L446.06,89.18 L446.54,88.42 L447.03,87.66 L447.53,86.91 L448.02,86.16 L448.52,85.41 L449.02,84.67 L449.53,83.92 L450.04,83.18 L450.55,82.44 L451.06,81.70 L451.58,80.97 L452.10,80.23 L452.63,79.50 L453.15,78.77 L453.68,78.05 L454.22,77.32 L454.76,76.60 L455.30,75.88 L455.84,75.17 L456.39,74.45 L456.94,73.74 L457.50,73.03 L458.06,72.33 L458.62,71.62 L459.19,70.92 L459.76,70.22 L460.34,69.52 L460.92,68.83 L461.50,68.14 L462.08,67.45 L462.67,66.75 L463.25,66.06 L463.84,65.37 L464.42,64.68 L465.01,63.99 L465.58,63.29 L466.16,62.59 L466.73,61.89 L467.29,61.18 L467.85,60.47 L468.41,59.76 L468.96,59.04 L469.51,58.33 L470.06,57.61 L470.61,56.90 L471.17,56.19 L471.73,55.48 L472.29,54.78 L472.86,54.08 L473.44,53.39 L474.03,52.71 L474.62,52.04 L475.23,51.38 L475.86,50.73 L476.50,50.09 L477.14,49.47 L477.81,48.85 L478.48,48.25 L479.17,47.66 L479.86,47.08 L480.57,46.51 L481.29,45.95 L482.01,45.41 L482.75,44.88 L483.50,44.36 L484.25,43.85 L485.02,43.35 L485.79,42.87 L486.57,42.39 L487.35,41.93 L488.15,41.48 L488.95,41.05 L489.75,40.62 L490.57,40.21 L491.38,39.81 L492.21,39.43 L493.03,39.05 L493.87,38.69 L494.70,38.34 L495.54,38.00 L496.38,37.68 L497.23,37.36 L498.08,37.06 L498.93,36.77 L499.79,36.49 L500.65,36.22 L501.51,35.96 L502.37,35.70 L503.24,35.46 L504.11,35.23 L504.98,35.01 L505.85,34.79 L506.73,34.58 L507.61,34.38 L508.49,34.19 L509.37,34.00 L510.26,33.82 L511.14,33.65 L512.03,33.48 L512.92,33.32 L513.81,33.16 L514.70,33.01 L515.59,32.86 L516.49,32.72 L517.38,32.58 L518.28,32.44 L519.18,32.31 L520.07,32.18 L520.97,32.05 L521.87,31.92 L522.77,31.80 L523.67,31.68 L524.57,31.55 L525.46,31.43 L526.36,31.31 L527.26,31.19 L528.16,31.07 L529.06,30.95 L529.96,30.83 L530.86,30.71 L531.76,30.59 L532.65,30.47 L533.55,30.35 L534.45,30.24 L535.35,30.12 L536.25,30.00 L537.15,29.88 L538.04,29.77 L538.94,29.65 L539.84,29.53 L540.74,29.42 L541.64,29.30 L542.53,29.18 L543.43,29.07 L544.33,28.95 L545.23,28.84 L546.13,28.72 L547.02,28.61 L547.92,28.49 L548.82,28.38 L549.72,28.27 L550.62,28.15 L551.51,28.04 L552.41,27.93 L553.31,27.81 L554.21,27.70 L555.10,27.59 L556.00,27.48 L556.90,27.36 L557.80,27.25 L558.69,27.14 L559.59,27.03 L560.49,26.92 L561.39,26.81 L562.28,26.70 L563.18,26.59 L564.08,26.48 L564.98,26.37 L565.87,26.26 L566.77,26.15 L567.67,26.04 L568.57,25.93 L569.46,25.82 L570.36,25.71 L571.26,25.61 L572.16,25.50 L573.05,25.39 L573.95,25.28 L574.85,25.17 L575.75,25.07 L576.64,24.96 L577.54,24.85 L578.44,24.75 L579.34,24.64 L580.23,24.53 L581.13,24.43 L582.03,24.32 L582.93,24.21 L583.82,24.11 L584.72,24.00 L585.62,23.90 L586.52,23.79 L587.42,23.69 L588.31,23.58 L589.21,23.48 L590.11,23.37 L591.01,23.27 L591.91,23.17 L592.80,23.06 L593.70,22.96 L594.60,22.85 L595.50,22.75 L596.40,22.65 L597.30,22.54 L598.19,22.44 L599.09,22.34 L599.99,22.24 L600.89,22.13 L601.79,22.03 L602.69,21.93 L603.59,21.83 L604.49,21.72 L605.38,21.62 L606.28,21.52 L607.18,21.42 L608.08,21.32 L608.98,21.22 L609.88,21.11 L610.78,21.01 L611.68,20.91 L612.58,20.81 L613.48,20.71 L614.38,20.61 L615.28,20.51 L616.18,20.50 L617.08,20.50 L618.00,20.50 L678.00,20.50" stroke="#2c2cbc" stroke-width="1.25" stroke-dasharray="5.4,5.2" stroke-dashoffset="2.0"/>
</g>
<g transform="translate(390.15,256.70) scale(0.955,1.03)"><text class="tl" text-anchor="middle">0.0</text></g>
<g transform="translate(382.85,245.20) scale(0.955,1.03)"><text class="tl" text-anchor="end">0.0</text></g>
<g transform="translate(418.98,256.70) scale(0.955,1.03)"><text class="tl" text-anchor="middle">0.1</text><rect x="1.05" y="-1.26" width="2.47" height="1.71" fill="#fff"/><rect x="4.98" y="-1.26" width="2.15" height="1.71" fill="#fff"/></g>
<g transform="translate(382.85,222.98) scale(0.955,1.03)"><text class="tl" text-anchor="end">0.1</text><rect x="-5.65" y="-1.26" width="2.47" height="1.71" fill="#fff"/><rect x="-1.73" y="-1.26" width="2.15" height="1.71" fill="#fff"/></g>
<g transform="translate(447.82,256.70) scale(0.955,1.03)"><text class="tl" text-anchor="middle">0.2</text></g>
<g transform="translate(382.85,200.76) scale(0.955,1.03)"><text class="tl" text-anchor="end">0.2</text></g>
<g transform="translate(476.65,256.70) scale(0.955,1.03)"><text class="tl" text-anchor="middle">0.3</text></g>
<g transform="translate(382.85,178.54) scale(0.955,1.03)"><text class="tl" text-anchor="end">0.3</text></g>
<g transform="translate(505.49,256.70) scale(0.955,1.03)"><text class="tl" text-anchor="middle">0.4</text></g>
<g transform="translate(382.85,156.32) scale(0.955,1.03)"><text class="tl" text-anchor="end">0.4</text></g>
<g transform="translate(534.33,256.70) scale(0.955,1.03)"><text class="tl" text-anchor="middle">0.5</text></g>
<g transform="translate(382.85,134.10) scale(0.955,1.03)"><text class="tl" text-anchor="end">0.5</text></g>
<g transform="translate(563.16,256.70) scale(0.955,1.03)"><text class="tl" text-anchor="middle">0.6</text></g>
<g transform="translate(382.85,111.88) scale(0.955,1.03)"><text class="tl" text-anchor="end">0.6</text></g>
<g transform="translate(592.00,256.70) scale(0.955,1.03)"><text class="tl" text-anchor="middle">0.7</text></g>
<g transform="translate(382.85,89.66) scale(0.955,1.03)"><text class="tl" text-anchor="end">0.7</text></g>
<g transform="translate(620.83,256.70) scale(0.955,1.03)"><text class="tl" text-anchor="middle">0.8</text></g>
<g transform="translate(382.85,67.44) scale(0.955,1.03)"><text class="tl" text-anchor="end">0.8</text></g>
<g transform="translate(649.66,256.70) scale(0.955,1.03)"><text class="tl" text-anchor="middle">0.9</text></g>
<g transform="translate(382.85,45.22) scale(0.955,1.03)"><text class="tl" text-anchor="end">0.9</text></g>
<g transform="translate(678.50,256.70) scale(0.955,1.03)"><text class="tl" text-anchor="middle">1.0</text><rect x="-7.00" y="-1.26" width="2.47" height="1.71" fill="#fff"/><rect x="-3.07" y="-1.26" width="2.15" height="1.71" fill="#fff"/></g>
<g transform="translate(382.85,23.00) scale(0.955,1.03)"><text class="tl" text-anchor="end">1.0</text><rect x="-13.70" y="-1.26" width="2.47" height="1.71" fill="#fff"/><rect x="-9.78" y="-1.26" width="2.15" height="1.71" fill="#fff"/></g>
<text x="534.33" y="274.7" class="at" text-anchor="middle">False Positive Rate</text>
<text transform="translate(363.00,125.90) rotate(-90)" class="at" text-anchor="middle">True Positive Rate</text>
<text x="534.30" y="9.4" class="at" text-anchor="middle">(b)</text>
<rect x="515.40" y="132.60" width="157.00" height="99.90" fill="#fff" stroke="#666" stroke-width="1"/>
<path d="M524.00,148.40 H545.90" stroke="#807c38" stroke-width="1.25"/>
<text x="548.10" y="151.60" class="lg">ModFOLD5_single</text>
<path d="M524.00,159.92 H540.20" stroke="#d82c38" stroke-width="1.25" stroke-dasharray="5.4,5.2"/>
<text x="548.10" y="163.12" class="lg">Quasi-MQAPRank (this study)</text>
<path d="M524.00,171.44 H545.90" stroke="#74267e" stroke-width="1.25"/>
<text x="548.10" y="174.64" class="lg">MQAPsingleA</text>
<path d="M524.00,182.96 H545.90" stroke="#e696e6" stroke-width="1.25"/>
<text x="548.10" y="186.16" class="lg">MQAPsingle</text>
<path d="M524.00,194.48 H545.90" stroke="#24807a" stroke-width="1.25"/>
<text x="548.10" y="197.68" class="lg">MULTICOM-CLUSTER</text>
<path d="M524.00,206.00 H545.90" stroke="#7c2cd4" stroke-width="1.25"/>
<text x="548.10" y="209.20" class="lg">VoroMQA</text>
<path d="M524.00,217.52 H540.20" stroke="#2c2cbc" stroke-width="1.25" stroke-dasharray="5.4,5.2"/>
<text x="548.10" y="220.72" class="lg">MQAPRank (this study)</text>
</svg>
</body></html>
